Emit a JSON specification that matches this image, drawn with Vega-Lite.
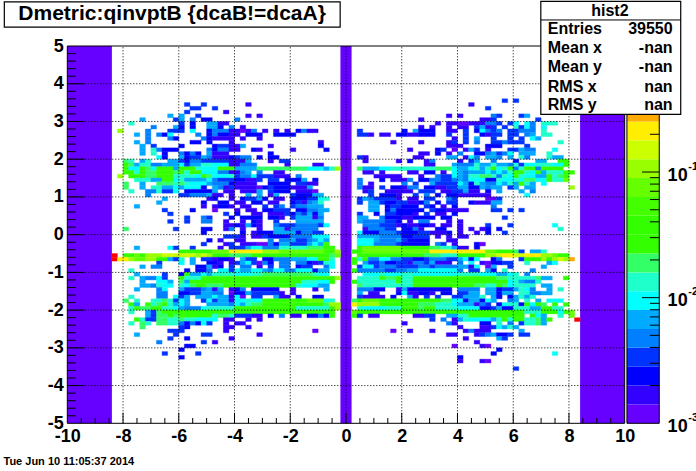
{"$schema":"https://vega.github.io/schema/vega-lite/v6.json","width":557.4,"height":377.3,"autosize":{"type":"none"},"padding":{"left":67.3,"top":46,"right":71.3,"bottom":47.7},"background":"white","config":{"view":{"stroke":null},"font":"Liberation Sans"},
"datasets":{"cells":[
{"x":-5.8,"x2":-5.6,"y":3.45,"z":0.0034},{"x":-5.2,"x2":-5,"y":3.45,"z":0.0034},{"x":-3.6,"x2":-3.4,"y":3.45,"z":0.0017},{"x":-5.6,"x2":-5.2,"y":3.35,"z":0.0034},{"x":-4.8,"x2":-4.6,"y":3.35,"z":0.0034},{"x":-5.8,"x2":-5.6,"y":3.25,"z":0.0034},{"x":-4.4,"x2":-4.2,"y":3.25,"z":0.0017},
{"x":-6.4,"x2":-6.2,"y":3.15,"z":0.0067},{"x":-6,"x2":-5.8,"y":3.15,"z":0.0067},{"x":-5.4,"x2":-5.2,"y":3.15,"z":0.0034},{"x":-3.6,"x2":-3.4,"y":3.15,"z":0.0017},{"x":-3.2,"x2":-3,"y":3.15,"z":0.0017},
{"x":-7.4,"x2":-7.2,"y":3.05,"z":0.0067},{"x":-6.2,"x2":-6,"y":3.05,"z":0.0034},{"x":-6,"x2":-5.8,"y":3.05,"z":0.0067},{"x":-5.6,"x2":-5.4,"y":3.05,"z":0.0047},{"x":-5.2,"x2":-4.8,"y":3.05,"z":0.0024},{"x":-4,"x2":-3.8,"y":3.05,"z":0.0047},
{"x":-7.8,"x2":-7.6,"y":2.95,"z":0.013},{"x":-6,"x2":-5.8,"y":2.95,"z":0.0034},{"x":-5.6,"x2":-5.4,"y":2.95,"z":0.0024},{"x":-5,"x2":-4.6,"y":2.95,"z":0.0067},{"x":-4.6,"x2":-4.2,"y":2.95,"z":0.0017},
{"x":-7,"x2":-6.8,"y":2.85,"z":0.0047},{"x":-6.2,"x2":-6,"y":2.85,"z":0.0067},{"x":-6,"x2":-5.8,"y":2.85,"z":0.0024},{"x":-5.6,"x2":-5.4,"y":2.85,"z":0.0024},{"x":-5,"x2":-4.6,"y":2.85,"z":0.0067},{"x":-4.6,"x2":-4.4,"y":2.85,"z":0.0024},{"x":-4.2,"x2":-4,"y":2.85,"z":0.0047},{"x":-3.8,"x2":-3.6,"y":2.85,"z":0.0017},
{"x":-8.2,"x2":-8,"y":2.75,"z":0.11},{"x":-7.2,"x2":-7,"y":2.75,"z":0.0047},{"x":-6.4,"x2":-5.8,"y":2.75,"z":0.0034},{"x":-5.6,"x2":-5.4,"y":2.75,"z":0.0094},{"x":-5,"x2":-4.8,"y":2.75,"z":0.0024},{"x":-4.8,"x2":-4.2,"y":2.75,"z":0.0047},{"x":-4.2,"x2":-3.8,"y":2.75,"z":0.0017},{"x":-3.8,"x2":-3.6,"y":2.75,"z":0.0012},{"x":-3.6,"x2":-3.4,"y":2.75,"z":0.0017},{"x":-3.4,"x2":-3.2,"y":2.75,"z":0.0047},{"x":-3,"x2":-2.8,"y":2.75,"z":0.0017},{"x":-2.6,"x2":-2.4,"y":2.75,"z":0.0017},{"x":-2.2,"x2":-2,"y":2.75,"z":0.0017},{"x":-1.8,"x2":-1.6,"y":2.75,"z":0.0024},{"x":-1.6,"x2":-1.4,"y":2.75,"z":0.0047},{"x":-1.4,"x2":-1,"y":2.75,"z":0.0017},
{"x":-7.6,"x2":-7.4,"y":2.65,"z":0.0067},{"x":-7.2,"x2":-7,"y":2.65,"z":0.0047},{"x":-6.8,"x2":-6.6,"y":2.65,"z":0.0047},{"x":-6.6,"x2":-6.4,"y":2.65,"z":0.0024},{"x":-6.4,"x2":-6.2,"y":2.65,"z":0.0094},{"x":-5.4,"x2":-5.2,"y":2.65,"z":0.0047},{"x":-5,"x2":-4.8,"y":2.65,"z":0.0024},{"x":-4.8,"x2":-4.6,"y":2.65,"z":0.0047},{"x":-4.6,"x2":-4.2,"y":2.65,"z":0.0024},{"x":-4.2,"x2":-3.8,"y":2.65,"z":0.0017},{"x":-3.6,"x2":-3,"y":2.65,"z":0.0024},{"x":-2.6,"x2":-1.8,"y":2.65,"z":0.0024},
{"x":-7.2,"x2":-7,"y":2.55,"z":0.0047},{"x":-6.4,"x2":-6.2,"y":2.55,"z":0.0047},{"x":-6.2,"x2":-6,"y":2.55,"z":0.0024},{"x":-5.2,"x2":-5,"y":2.55,"z":0.0047},{"x":-5,"x2":-4.8,"y":2.55,"z":0.0024},{"x":-4.8,"x2":-4,"y":2.55,"z":0.0017},{"x":-3.8,"x2":-3.6,"y":2.55,"z":0.0017},{"x":-3.2,"x2":-3,"y":2.55,"z":0.0017},
{"x":-7.6,"x2":-7.4,"y":2.45,"z":0.0067},{"x":-7.2,"x2":-7,"y":2.45,"z":0.0047},{"x":-5.6,"x2":-5.2,"y":2.45,"z":0.0024},{"x":-5,"x2":-4.8,"y":2.45,"z":0.0024},{"x":-4.2,"x2":-4,"y":2.45,"z":0.0017},{"x":-1,"x2":-0.8,"y":2.45,"z":0.0017},
{"x":-7.4,"x2":-7.2,"y":2.35,"z":0.0067},{"x":-7,"x2":-6.8,"y":2.35,"z":0.0034},{"x":-6,"x2":-5.8,"y":2.35,"z":0.0024},{"x":-4.8,"x2":-4.6,"y":2.35,"z":0.0024},{"x":-4.6,"x2":-4.2,"y":2.35,"z":0.0034},{"x":-4.2,"x2":-3.8,"y":2.35,"z":0.0017},{"x":-3.8,"x2":-3.6,"y":2.35,"z":0.0067},{"x":-2.8,"x2":-2.6,"y":2.35,"z":0.0017},{"x":-1,"x2":-0.8,"y":2.35,"z":0.0024},
{"x":-7.4,"x2":-7.2,"y":2.25,"z":0.0067},{"x":-7,"x2":-6.8,"y":2.25,"z":0.013},{"x":-6.8,"x2":-6.6,"y":2.25,"z":0.0047},{"x":-6.6,"x2":-6,"y":2.25,"z":0.0024},{"x":-5,"x2":-4.8,"y":2.25,"z":0.0047},{"x":-4.8,"x2":-4.6,"y":2.25,"z":0.0024},{"x":-4.6,"x2":-4.2,"y":2.25,"z":0.0047},{"x":-4.2,"x2":-3.8,"y":2.25,"z":0.0017},{"x":-3.4,"x2":-3.2,"y":2.25,"z":0.0024},{"x":-3.2,"x2":-3,"y":2.25,"z":0.0017},{"x":-2,"x2":-1.8,"y":2.25,"z":0.0017},{"x":-0.8,"x2":-0.6,"y":2.25,"z":0.0024},
{"x":-7.4,"x2":-7.2,"y":2.15,"z":0.0067},{"x":-7,"x2":-6.8,"y":2.15,"z":0.013},{"x":-6.6,"x2":-6.4,"y":2.15,"z":0.0024},{"x":-6,"x2":-5.8,"y":2.15,"z":0.0047},{"x":-5.8,"x2":-5.6,"y":2.15,"z":0.0024},{"x":-5.6,"x2":-5.4,"y":2.15,"z":0.0047},{"x":-5.4,"x2":-5.2,"y":2.15,"z":0.0024},{"x":-5,"x2":-4.8,"y":2.15,"z":0.0067},{"x":-4.8,"x2":-4.2,"y":2.15,"z":0.0017},{"x":-2.8,"x2":-2.6,"y":2.15,"z":0.0024},
{"x":-6.8,"x2":-6.6,"y":2.05,"z":0.0094},{"x":-6.6,"x2":-6.4,"y":2.05,"z":0.0024},{"x":-6,"x2":-5.8,"y":2.05,"z":0.0067},{"x":-5.8,"x2":-5.6,"y":2.05,"z":0.0024},{"x":-5.6,"x2":-5.2,"y":2.05,"z":0.0034},{"x":-5.2,"x2":-5,"y":2.05,"z":0.0067},{"x":-5,"x2":-4.8,"y":2.05,"z":0.0047},{"x":-4.8,"x2":-4.2,"y":2.05,"z":0.0017},{"x":-4.2,"x2":-4,"y":2.05,"z":0.0024},{"x":-4,"x2":-3.8,"y":2.05,"z":0.0034},{"x":-3.8,"x2":-3.4,"y":2.05,"z":0.0047},{"x":-3.2,"x2":-3,"y":2.05,"z":0.0024},{"x":-2.8,"x2":-2.4,"y":2.05,"z":0.0024},
{"x":-8,"x2":-7.8,"y":1.95,"z":0.019},{"x":-7.8,"x2":-7.6,"y":1.95,"z":0.013},{"x":-7.4,"x2":-7.2,"y":1.95,"z":0.0067},{"x":-7.2,"x2":-7,"y":1.95,"z":0.013},{"x":-6.4,"x2":-6,"y":1.95,"z":0.0067},{"x":-6,"x2":-5.8,"y":1.95,"z":0.0034},{"x":-5.8,"x2":-5.6,"y":1.95,"z":0.0024},{"x":-5.6,"x2":-5.2,"y":1.95,"z":0.0047},{"x":-5.2,"x2":-4.2,"y":1.95,"z":0.0034},{"x":-4.2,"x2":-3.6,"y":1.95,"z":0.0017},{"x":-3.6,"x2":-3.4,"y":1.95,"z":0.0067},{"x":-2.8,"x2":-2.6,"y":1.95,"z":0.0017},{"x":-2.4,"x2":-2,"y":1.95,"z":0.0034},
{"x":-8,"x2":-7.8,"y":1.85,"z":0.038},{"x":-7.8,"x2":-7.6,"y":1.85,"z":0.019},{"x":-7.6,"x2":-7.4,"y":1.85,"z":0.0067},{"x":-7.4,"x2":-7,"y":1.85,"z":0.013},{"x":-7,"x2":-6.6,"y":1.85,"z":0.0047},{"x":-6.6,"x2":-6,"y":1.85,"z":0.0067},{"x":-6,"x2":-5.8,"y":1.85,"z":0.0094},{"x":-5.8,"x2":-5.6,"y":1.85,"z":0.0034},{"x":-5.6,"x2":-5.2,"y":1.85,"z":0.0067},{"x":-5.2,"x2":-4.8,"y":1.85,"z":0.013},{"x":-4.8,"x2":-4.2,"y":1.85,"z":0.0094},{"x":-4.2,"x2":-3.8,"y":1.85,"z":0.0017},{"x":-3.8,"x2":-3.2,"y":1.85,"z":0.0047},{"x":-2.2,"x2":-2,"y":1.85,"z":0.0017},{"x":-1.2,"x2":-0.8,"y":1.85,"z":0.0017},
{"x":-8,"x2":-7.8,"y":1.75,"z":0.038},{"x":-7.8,"x2":-7.4,"y":1.75,"z":0.0094},{"x":-7.4,"x2":-7.2,"y":1.75,"z":0.038},{"x":-7.2,"x2":-7,"y":1.75,"z":0.019},{"x":-7,"x2":-6.8,"y":1.75,"z":0.0094},{"x":-6.8,"x2":-6.4,"y":1.75,"z":0.038},{"x":-6.4,"x2":-6.2,"y":1.75,"z":0.027},{"x":-6.2,"x2":-6,"y":1.75,"z":0.0067},{"x":-6,"x2":-5.4,"y":1.75,"z":0.038},{"x":-5.4,"x2":-5.2,"y":1.75,"z":0.013},{"x":-5.2,"x2":-4.6,"y":1.75,"z":0.0094},{"x":-4.6,"x2":-4,"y":1.75,"z":0.027},{"x":-4,"x2":-3.2,"y":1.75,"z":0.0067},{"x":-3.2,"x2":-1.4,"y":1.75,"z":0.019},{"x":-1.4,"x2":-0.8,"y":1.75,"z":0.0094},{"x":-0.8,"x2":-0.6,"y":1.75,"z":0.0067},{"x":-0.6,"x2":-0.4,"y":1.75,"z":0.013},{"x":-0.4,"x2":-0.2,"y":1.75,"z":0.11},
{"x":-8,"x2":-7.6,"y":1.65,"z":0.027},{"x":-7.6,"x2":-7.4,"y":1.65,"z":0.013},{"x":-7.4,"x2":-7.2,"y":1.65,"z":0.027},{"x":-7.2,"x2":-6.8,"y":1.65,"z":0.019},{"x":-6.8,"x2":-6.2,"y":1.65,"z":0.027},{"x":-6.2,"x2":-6,"y":1.65,"z":0.019},{"x":-6,"x2":-5.8,"y":1.65,"z":0.027},{"x":-5.8,"x2":-5.6,"y":1.65,"z":0.013},{"x":-5.6,"x2":-5.2,"y":1.65,"z":0.027},{"x":-5.2,"x2":-4.6,"y":1.65,"z":0.0094},{"x":-4.6,"x2":-4.2,"y":1.65,"z":0.0047},{"x":-4.2,"x2":-3.8,"y":1.65,"z":0.0017},{"x":-3.8,"x2":-3.6,"y":1.65,"z":0.0047},{"x":-3.6,"x2":-3.4,"y":1.65,"z":0.0067},{"x":-3.2,"x2":-3,"y":1.65,"z":0.0047},{"x":-2.6,"x2":-2.2,"y":1.65,"z":0.0017},
{"x":-8.2,"x2":-8,"y":1.55,"z":0.11},{"x":-7.8,"x2":-7.2,"y":1.55,"z":0.027},{"x":-7.2,"x2":-6.8,"y":1.55,"z":0.019},{"x":-6.8,"x2":-6.2,"y":1.55,"z":0.027},{"x":-6.2,"x2":-5.4,"y":1.55,"z":0.013},{"x":-5.4,"x2":-5.2,"y":1.55,"z":0.0094},{"x":-5.2,"x2":-5,"y":1.55,"z":0.027},{"x":-5,"x2":-4.8,"y":1.55,"z":0.019},{"x":-4.8,"x2":-4.2,"y":1.55,"z":0.0094},{"x":-4.2,"x2":-4,"y":1.55,"z":0.013},{"x":-4,"x2":-3.8,"y":1.55,"z":0.0034},{"x":-3.8,"x2":-3.4,"y":1.55,"z":0.0047},{"x":-3.4,"x2":-3.2,"y":1.55,"z":0.0094},{"x":-3.2,"x2":-2.6,"y":1.55,"z":0.0034},{"x":-2.6,"x2":-2,"y":1.55,"z":0.0017},{"x":-1.8,"x2":-1.6,"y":1.55,"z":0.0047},
{"x":-7.6,"x2":-7,"y":1.45,"z":0.013},{"x":-7,"x2":-6.6,"y":1.45,"z":0.0067},{"x":-6.6,"x2":-6.2,"y":1.45,"z":0.027},{"x":-6.2,"x2":-6,"y":1.45,"z":0.0094},{"x":-6,"x2":-5.8,"y":1.45,"z":0.013},{"x":-5.8,"x2":-5,"y":1.45,"z":0.0067},{"x":-5,"x2":-4.8,"y":1.45,"z":0.0094},{"x":-4.8,"x2":-4.6,"y":1.45,"z":0.0047},{"x":-4.6,"x2":-4,"y":1.45,"z":0.0034},{"x":-4,"x2":-3.6,"y":1.45,"z":0.0024},{"x":-3.6,"x2":-3.2,"y":1.45,"z":0.0017},{"x":-3.2,"x2":-3,"y":1.45,"z":0.0034},{"x":-2.8,"x2":-2.4,"y":1.45,"z":0.0034},{"x":-2.2,"x2":-1.6,"y":1.45,"z":0.0024},{"x":-1.6,"x2":-1.4,"y":1.45,"z":0.0067},{"x":-1.2,"x2":-1,"y":1.45,"z":0.0024},
{"x":-8,"x2":-7.8,"y":1.35,"z":0.019},{"x":-7.4,"x2":-7.2,"y":1.35,"z":0.0067},{"x":-6.8,"x2":-6.2,"y":1.35,"z":0.019},{"x":-6.2,"x2":-6,"y":1.35,"z":0.013},{"x":-6,"x2":-5.8,"y":1.35,"z":0.019},{"x":-5.8,"x2":-5.6,"y":1.35,"z":0.013},{"x":-5.6,"x2":-5,"y":1.35,"z":0.0094},{"x":-5,"x2":-4.8,"y":1.35,"z":0.0067},{"x":-4.8,"x2":-4.2,"y":1.35,"z":0.0047},{"x":-4.2,"x2":-4,"y":1.35,"z":0.0024},{"x":-4,"x2":-3.2,"y":1.35,"z":0.0017},{"x":-2.8,"x2":-2,"y":1.35,"z":0.0024},{"x":-1.8,"x2":-1.4,"y":1.35,"z":0.0034},{"x":-1.4,"x2":-1,"y":1.35,"z":0.0017},
{"x":-8,"x2":-7.8,"y":1.25,"z":0.019},{"x":-7.4,"x2":-7.2,"y":1.25,"z":0.0067},{"x":-7,"x2":-6.6,"y":1.25,"z":0.013},{"x":-6.6,"x2":-6.2,"y":1.25,"z":0.0067},{"x":-6.2,"x2":-6,"y":1.25,"z":0.0094},{"x":-6,"x2":-5.8,"y":1.25,"z":0.0067},{"x":-5.8,"x2":-5.2,"y":1.25,"z":0.0094},{"x":-5.2,"x2":-5,"y":1.25,"z":0.0024},{"x":-4.8,"x2":-4.6,"y":1.25,"z":0.0067},{"x":-4.6,"x2":-4.4,"y":1.25,"z":0.0047},{"x":-4.4,"x2":-4.2,"y":1.25,"z":0.0017},{"x":-4.2,"x2":-4,"y":1.25,"z":0.0034},{"x":-4,"x2":-3.2,"y":1.25,"z":0.0017},{"x":-3.2,"x2":-3,"y":1.25,"z":0.0012},{"x":-3,"x2":-2.8,"y":1.25,"z":0.0024},{"x":-2.8,"x2":-2.6,"y":1.25,"z":0.0034},{"x":-2.6,"x2":-2,"y":1.25,"z":0.0024},{"x":-2,"x2":-1.4,"y":1.25,"z":0.0017},{"x":-1.4,"x2":-1.2,"y":1.25,"z":0.0067},
{"x":-7.8,"x2":-7.6,"y":1.15,"z":0.013},{"x":-7.2,"x2":-6.8,"y":1.15,"z":0.0047},{"x":-6.8,"x2":-6.6,"y":1.15,"z":0.013},{"x":-6.6,"x2":-6.2,"y":1.15,"z":0.0034},{"x":-6.2,"x2":-6,"y":1.15,"z":0.0094},{"x":-5.8,"x2":-4.8,"y":1.15,"z":0.0024},{"x":-4.8,"x2":-4.6,"y":1.15,"z":0.0067},{"x":-4.4,"x2":-4,"y":1.15,"z":0.0017},{"x":-3.8,"x2":-3.2,"y":1.15,"z":0.0017},{"x":-3.2,"x2":-3,"y":1.15,"z":0.0067},{"x":-2.8,"x2":-2.6,"y":1.15,"z":0.0034},{"x":-2.6,"x2":-2,"y":1.15,"z":0.0024},{"x":-1.8,"x2":-1.2,"y":1.15,"z":0.0017},{"x":-1.2,"x2":-1,"y":1.15,"z":0.0012},
{"x":-7.2,"x2":-7,"y":1.05,"z":0.0047},{"x":-6,"x2":-5.6,"y":1.05,"z":0.0034},{"x":-5.6,"x2":-5,"y":1.05,"z":0.0047},{"x":-5,"x2":-4.8,"y":1.05,"z":0.0067},{"x":-4.8,"x2":-4.4,"y":1.05,"z":0.0017},{"x":-4.2,"x2":-4,"y":1.05,"z":0.0017},{"x":-3.6,"x2":-3.4,"y":1.05,"z":0.0067},{"x":-3.2,"x2":-3,"y":1.05,"z":0.0067},{"x":-2.8,"x2":-2.6,"y":1.05,"z":0.0017},{"x":-2.6,"x2":-2.4,"y":1.05,"z":0.0067},{"x":-2,"x2":-1.8,"y":1.05,"z":0.0034},{"x":-1.8,"x2":-1.2,"y":1.05,"z":0.0024},{"x":-1.2,"x2":-0.8,"y":1.05,"z":0.0067},
{"x":-6.6,"x2":-6.4,"y":0.95,"z":0.0067},{"x":-5,"x2":-4.8,"y":0.95,"z":0.0017},{"x":-4.8,"x2":-4.6,"y":0.95,"z":0.0024},{"x":-4.2,"x2":-4,"y":0.95,"z":0.0017},{"x":-3.8,"x2":-3.6,"y":0.95,"z":0.0024},{"x":-3.6,"x2":-3.2,"y":0.95,"z":0.0034},{"x":-3.2,"x2":-3,"y":0.95,"z":0.0067},{"x":-3,"x2":-2.8,"y":0.95,"z":0.0024},{"x":-2.6,"x2":-2.2,"y":0.95,"z":0.0017},{"x":-2,"x2":-1.4,"y":0.95,"z":0.0024},{"x":-1.4,"x2":-1,"y":0.95,"z":0.0034},{"x":-1,"x2":-0.8,"y":0.95,"z":0.0094},{"x":-0.8,"x2":-0.6,"y":0.95,"z":0.013},
{"x":-6.8,"x2":-6.6,"y":0.85,"z":0.0067},{"x":-5.2,"x2":-5,"y":0.85,"z":0.0024},{"x":-4.6,"x2":-4.2,"y":0.85,"z":0.0024},{"x":-4,"x2":-3.6,"y":0.85,"z":0.0017},{"x":-3.4,"x2":-3,"y":0.85,"z":0.0024},{"x":-2.8,"x2":-2.4,"y":0.85,"z":0.0017},{"x":-2,"x2":-1.8,"y":0.85,"z":0.0024},{"x":-1.8,"x2":-1.6,"y":0.85,"z":0.0034},{"x":-1.6,"x2":-1.4,"y":0.85,"z":0.0017},{"x":-1.4,"x2":-1.2,"y":0.85,"z":0.0047},{"x":-1.2,"x2":-1,"y":0.85,"z":0.0067},{"x":-1,"x2":-0.8,"y":0.85,"z":0.013},
{"x":-7.6,"x2":-7.4,"y":0.75,"z":0.0067},{"x":-5.2,"x2":-5,"y":0.75,"z":0.0017},{"x":-4.8,"x2":-4.6,"y":0.75,"z":0.0017},{"x":-4.6,"x2":-4.2,"y":0.75,"z":0.0024},{"x":-4.2,"x2":-4,"y":0.75,"z":0.0017},{"x":-3.8,"x2":-3.4,"y":0.75,"z":0.0017},{"x":-3,"x2":-2.8,"y":0.75,"z":0.0034},{"x":-2.6,"x2":-2.4,"y":0.75,"z":0.0034},{"x":-2.4,"x2":-2.2,"y":0.75,"z":0.0047},{"x":-2,"x2":-1.8,"y":0.75,"z":0.0034},{"x":-1.8,"x2":-1.4,"y":0.75,"z":0.0047},{"x":-1.4,"x2":-0.8,"y":0.75,"z":0.0067},
{"x":-6.6,"x2":-6.4,"y":0.65,"z":0.0034},{"x":-5.6,"x2":-5.4,"y":0.65,"z":0.0024},{"x":-4.8,"x2":-4.6,"y":0.65,"z":0.0012},{"x":-4,"x2":-3.8,"y":0.65,"z":0.0017},{"x":-3.6,"x2":-3.2,"y":0.65,"z":0.0017},{"x":-3,"x2":-2.6,"y":0.65,"z":0.0024},{"x":-2.6,"x2":-2,"y":0.65,"z":0.0034},{"x":-1.8,"x2":-1.4,"y":0.65,"z":0.0024},{"x":-1.4,"x2":-1,"y":0.65,"z":0.0047},{"x":-1,"x2":-0.6,"y":0.65,"z":0.0067},
{"x":-6.4,"x2":-6.2,"y":0.55,"z":0.0034},{"x":-4.4,"x2":-4.2,"y":0.55,"z":0.0034},{"x":-4,"x2":-3.8,"y":0.55,"z":0.0024},{"x":-3.4,"x2":-3,"y":0.55,"z":0.0017},{"x":-2.8,"x2":-2.2,"y":0.55,"z":0.0017},{"x":-2.2,"x2":-2,"y":0.55,"z":0.0034},{"x":-2,"x2":-1.8,"y":0.55,"z":0.0024},{"x":-1.8,"x2":-1.6,"y":0.55,"z":0.0047},{"x":-1.6,"x2":-1.4,"y":0.55,"z":0.0034},{"x":-1.4,"x2":-1.2,"y":0.55,"z":0.0067},{"x":-1.2,"x2":-1,"y":0.55,"z":0.0024},{"x":-1,"x2":-0.8,"y":0.55,"z":0.0067},
{"x":-5.8,"x2":-5.6,"y":0.45,"z":0.0034},{"x":-5.2,"x2":-5,"y":0.45,"z":0.0047},{"x":-5,"x2":-4.8,"y":0.45,"z":0.0034},{"x":-4.2,"x2":-4,"y":0.45,"z":0.0024},{"x":-3.8,"x2":-3,"y":0.45,"z":0.0024},{"x":-2.8,"x2":-2.4,"y":0.45,"z":0.0024},{"x":-2.4,"x2":-2.2,"y":0.45,"z":0.0017},{"x":-2,"x2":-1.8,"y":0.45,"z":0.0034},{"x":-1.8,"x2":-1.2,"y":0.45,"z":0.0067},{"x":-1.2,"x2":-1,"y":0.45,"z":0.0017},{"x":-1,"x2":-0.8,"y":0.45,"z":0.0047},
{"x":-6.4,"x2":-6.2,"y":0.35,"z":0.0034},{"x":-5.8,"x2":-5.6,"y":0.35,"z":0.0034},{"x":-5.2,"x2":-4.8,"y":0.35,"z":0.0047},{"x":-4.4,"x2":-4.2,"y":0.35,"z":0.0017},{"x":-3.8,"x2":-3.6,"y":0.35,"z":0.0017},{"x":-3.4,"x2":-3.2,"y":0.35,"z":0.0024},{"x":-3.2,"x2":-3,"y":0.35,"z":0.0017},{"x":-2.6,"x2":-2.4,"y":0.35,"z":0.0034},{"x":-1.8,"x2":-0.8,"y":0.35,"z":0.0067},
{"x":-4.4,"x2":-4,"y":0.25,"z":0.0017},{"x":-4,"x2":-3.8,"y":0.25,"z":0.0024},{"x":-3.8,"x2":-3.6,"y":0.25,"z":0.0017},{"x":-3.6,"x2":-3.4,"y":0.25,"z":0.0067},{"x":-3.4,"x2":-3.2,"y":0.25,"z":0.0024},{"x":-3.2,"x2":-3,"y":0.25,"z":0.0017},{"x":-2.6,"x2":-2.4,"y":0.25,"z":0.0047},{"x":-2.4,"x2":-1.8,"y":0.25,"z":0.0034},{"x":-1.8,"x2":-1,"y":0.25,"z":0.0047},{"x":-1,"x2":-0.8,"y":0.25,"z":0.0034},{"x":-0.8,"x2":-0.6,"y":0.25,"z":0.0094},
{"x":-8,"x2":-7.8,"y":0.15,"z":0.019},{"x":-6.2,"x2":-6,"y":0.15,"z":0.0034},{"x":-5.2,"x2":-4.8,"y":0.15,"z":0.0024},{"x":-4.4,"x2":-4.2,"y":0.15,"z":0.0017},{"x":-4.2,"x2":-4,"y":0.15,"z":0.0047},{"x":-3.8,"x2":-3.6,"y":0.15,"z":0.0017},{"x":-3.2,"x2":-3,"y":0.15,"z":0.0017},{"x":-2.6,"x2":-2.2,"y":0.15,"z":0.0067},{"x":-2.2,"x2":-2,"y":0.15,"z":0.0017},{"x":-2,"x2":-1,"y":0.15,"z":0.0047},
{"x":-5.2,"x2":-5,"y":0.05,"z":0.0024},{"x":-3.8,"x2":-3.6,"y":0.05,"z":0.0024},{"x":-3.4,"x2":-3.2,"y":0.05,"z":0.0017},{"x":-3.2,"x2":-2.6,"y":0.05,"z":0.0024},{"x":-2.6,"x2":-1.8,"y":0.05,"z":0.0067},{"x":-1.8,"x2":-1.6,"y":0.05,"z":0.0024},{"x":-1.6,"x2":-1.2,"y":0.05,"z":0.0047},{"x":-1.2,"x2":-0.8,"y":0.05,"z":0.0034},
{"x":-4.4,"x2":-3.8,"y":-0.05,"z":0.0034},{"x":-3.8,"x2":-3.6,"y":-0.05,"z":0.0017},{"x":-3.4,"x2":-3,"y":-0.05,"z":0.0017},{"x":-3,"x2":-2.8,"y":-0.05,"z":0.0034},{"x":-2.8,"x2":-2,"y":-0.05,"z":0.0024},{"x":-2,"x2":-1.2,"y":-0.05,"z":0.0047},{"x":-1.2,"x2":-0.6,"y":-0.05,"z":0.0094},
{"x":-5,"x2":-4.8,"y":-0.15,"z":0.0024},{"x":-4.6,"x2":-4.4,"y":-0.15,"z":0.0017},{"x":-4,"x2":-3.6,"y":-0.15,"z":0.0017},{"x":-2.8,"x2":-2.6,"y":-0.15,"z":0.0047},{"x":-2.4,"x2":-2,"y":-0.15,"z":0.0047},{"x":-2,"x2":-1.8,"y":-0.15,"z":0.0067},{"x":-1.8,"x2":-1.4,"y":-0.15,"z":0.0034},{"x":-1.4,"x2":-1.2,"y":-0.15,"z":0.0047},{"x":-1.2,"x2":-1,"y":-0.15,"z":0.0067},{"x":-1,"x2":-0.8,"y":-0.15,"z":0.0094},{"x":-0.8,"x2":-0.6,"y":-0.15,"z":0.0067},
{"x":-5.2,"x2":-5,"y":-0.25,"z":0.0034},{"x":-4.4,"x2":-4.2,"y":-0.25,"z":0.0017},{"x":-4.2,"x2":-4,"y":-0.25,"z":0.0034},{"x":-3.8,"x2":-3.2,"y":-0.25,"z":0.0017},{"x":-3.2,"x2":-2.8,"y":-0.25,"z":0.0012},{"x":-2.8,"x2":-2.6,"y":-0.25,"z":0.0047},{"x":-2.6,"x2":-2.4,"y":-0.25,"z":0.0024},{"x":-2.4,"x2":-2,"y":-0.25,"z":0.0067},{"x":-2,"x2":-1.4,"y":-0.25,"z":0.0034},{"x":-1.4,"x2":-1.2,"y":-0.25,"z":0.0067},{"x":-1.2,"x2":-1,"y":-0.25,"z":0.0094},{"x":-1,"x2":-0.8,"y":-0.25,"z":0.0067},{"x":-0.8,"x2":-0.6,"y":-0.25,"z":0.027},
{"x":-7.6,"x2":-7.4,"y":-0.35,"z":0.0067},{"x":-6.4,"x2":-6.2,"y":-0.35,"z":0.0094},{"x":-6.2,"x2":-6,"y":-0.35,"z":0.0034},{"x":-5.6,"x2":-5.4,"y":-0.35,"z":0.0034},{"x":-4.6,"x2":-4.4,"y":-0.35,"z":0.0017},{"x":-4.2,"x2":-3.6,"y":-0.35,"z":0.0034},{"x":-3.6,"x2":-3.4,"y":-0.35,"z":0.0067},{"x":-3.4,"x2":-3,"y":-0.35,"z":0.0094},{"x":-3,"x2":-2.4,"y":-0.35,"z":0.0047},{"x":-2.4,"x2":-1.4,"y":-0.35,"z":0.013},{"x":-1.4,"x2":-0.8,"y":-0.35,"z":0.019},{"x":-0.8,"x2":-0.4,"y":-0.35,"z":0.027},
{"x":-6,"x2":-4.8,"y":-0.45,"z":0.027},{"x":-4.8,"x2":-4.2,"y":-0.45,"z":0.075},{"x":-4.2,"x2":-3,"y":-0.45,"z":0.21},{"x":-3,"x2":-2.4,"y":-0.45,"z":0.11},{"x":-2.4,"x2":-0.8,"y":-0.45,"z":0.075},{"x":-0.8,"x2":-0.4,"y":-0.45,"z":0.027},{"x":-0.4,"x2":-0.2,"y":-0.45,"z":0.11},
{"x":-8.4,"x2":-8.2,"y":-0.55,"z":0.6},{"x":-8,"x2":-7.6,"y":-0.55,"z":0.027},{"x":-7.6,"x2":-7.4,"y":-0.55,"z":0.075},{"x":-7.4,"x2":-7.2,"y":-0.55,"z":0.027},{"x":-7.2,"x2":-6.6,"y":-0.55,"z":0.11},{"x":-6.6,"x2":-5.4,"y":-0.55,"z":0.15},{"x":-5.4,"x2":-5.2,"y":-0.55,"z":0.11},{"x":-5.2,"x2":-5,"y":-0.55,"z":0.15},{"x":-5,"x2":-4.8,"y":-0.55,"z":0.11},{"x":-4.8,"x2":-4.2,"y":-0.55,"z":0.027},{"x":-4.2,"x2":-3.4,"y":-0.55,"z":0.019},{"x":-3.4,"x2":-0.6,"y":-0.55,"z":0.027},{"x":-0.6,"x2":-0.4,"y":-0.55,"z":0.019},{"x":-0.4,"x2":-0.2,"y":-0.55,"z":0.075},
{"x":-8.4,"x2":-8.2,"y":-0.65,"z":0.6},{"x":-8.2,"x2":-7.8,"y":-0.65,"z":0.21},{"x":-7.8,"x2":-7.6,"y":-0.65,"z":0.11},{"x":-7.6,"x2":-7.2,"y":-0.65,"z":0.075},{"x":-7.2,"x2":-6.8,"y":-0.65,"z":0.11},{"x":-6.8,"x2":-6.4,"y":-0.65,"z":0.027},{"x":-6.4,"x2":-6.2,"y":-0.65,"z":0.0067},{"x":-6.2,"x2":-6,"y":-0.65,"z":0.0034},{"x":-6,"x2":-5.8,"y":-0.65,"z":0.013},{"x":-5.6,"x2":-5.4,"y":-0.65,"z":0.0067},{"x":-5.2,"x2":-4.8,"y":-0.65,"z":0.0034},{"x":-4.8,"x2":-4.6,"y":-0.65,"z":0.0017},{"x":-4.6,"x2":-4.2,"y":-0.65,"z":0.0024},{"x":-4.2,"x2":-4,"y":-0.65,"z":0.0017},{"x":-3.8,"x2":-3.6,"y":-0.65,"z":0.0067},{"x":-3.6,"x2":-3.2,"y":-0.65,"z":0.0034},{"x":-3,"x2":-2.6,"y":-0.65,"z":0.0024},{"x":-2.6,"x2":-2,"y":-0.65,"z":0.0047},{"x":-2,"x2":-1.4,"y":-0.65,"z":0.0067},{"x":-1.4,"x2":-1,"y":-0.65,"z":0.0094},{"x":-1,"x2":-0.6,"y":-0.65,"z":0.027},{"x":-0.6,"x2":-0.4,"y":-0.65,"z":0.013},
{"x":-6.8,"x2":-6.6,"y":-0.75,"z":0.0034},{"x":-6,"x2":-5.8,"y":-0.75,"z":0.0094},{"x":-5.6,"x2":-5.4,"y":-0.75,"z":0.0067},{"x":-5,"x2":-4.6,"y":-0.75,"z":0.0024},{"x":-4.6,"x2":-4.4,"y":-0.75,"z":0.0017},{"x":-4.2,"x2":-4,"y":-0.75,"z":0.0017},{"x":-4,"x2":-3.8,"y":-0.75,"z":0.0034},{"x":-3.8,"x2":-3.6,"y":-0.75,"z":0.0067},{"x":-3.6,"x2":-3.4,"y":-0.75,"z":0.0094},{"x":-3.4,"x2":-3.2,"y":-0.75,"z":0.0034},{"x":-3.2,"x2":-3,"y":-0.75,"z":0.0012},{"x":-3,"x2":-2.8,"y":-0.75,"z":0.0047},{"x":-2.8,"x2":-2.6,"y":-0.75,"z":0.0024},{"x":-2.4,"x2":-2,"y":-0.75,"z":0.0047},{"x":-1.8,"x2":-1.4,"y":-0.75,"z":0.0047},{"x":-1.4,"x2":-1.2,"y":-0.75,"z":0.0024},{"x":-1.2,"x2":-1,"y":-0.75,"z":0.0017},{"x":-1,"x2":-0.8,"y":-0.75,"z":0.0034},{"x":-0.8,"x2":-0.6,"y":-0.75,"z":0.013},{"x":-0.6,"x2":-0.4,"y":-0.75,"z":0.0094},
{"x":-7.4,"x2":-7.2,"y":-0.85,"z":0.0067},{"x":-7,"x2":-6.6,"y":-0.85,"z":0.0047},{"x":-5.4,"x2":-5,"y":-0.85,"z":0.0024},{"x":-5,"x2":-4.8,"y":-0.85,"z":0.0067},{"x":-4.8,"x2":-4.6,"y":-0.85,"z":0.0017},{"x":-4.6,"x2":-4.4,"y":-0.85,"z":0.0024},{"x":-4.2,"x2":-4,"y":-0.85,"z":0.0034},{"x":-3.8,"x2":-3.4,"y":-0.85,"z":0.0047},{"x":-3.2,"x2":-3,"y":-0.85,"z":0.0017},{"x":-2.8,"x2":-2.6,"y":-0.85,"z":0.0034},{"x":-2.4,"x2":-2,"y":-0.85,"z":0.0047},{"x":-1.8,"x2":-1.6,"y":-0.85,"z":0.0024},{"x":-1.6,"x2":-1.2,"y":-0.85,"z":0.0034},{"x":-0.8,"x2":-0.6,"y":-0.85,"z":0.0047},{"x":-0.6,"x2":-0.4,"y":-0.85,"z":0.0094},
{"x":-7.8,"x2":-7.6,"y":-0.95,"z":0.013},{"x":-5.8,"x2":-5.6,"y":-0.95,"z":0.0024},{"x":-5.4,"x2":-5,"y":-0.95,"z":0.0024},{"x":-5,"x2":-4.8,"y":-0.95,"z":0.0047},{"x":-4.6,"x2":-4.2,"y":-0.95,"z":0.0094},{"x":-4.2,"x2":-4,"y":-0.95,"z":0.0034},{"x":-4,"x2":-3.8,"y":-0.95,"z":0.0094},{"x":-3.8,"x2":-3.4,"y":-0.95,"z":0.0067},{"x":-3.4,"x2":-3,"y":-0.95,"z":0.0094},{"x":-3,"x2":-2.8,"y":-0.95,"z":0.0067},{"x":-2.8,"x2":-2.6,"y":-0.95,"z":0.0047},{"x":-2.6,"x2":-2.2,"y":-0.95,"z":0.0094},{"x":-2.2,"x2":-1.8,"y":-0.95,"z":0.0047},{"x":-1.8,"x2":-1.2,"y":-0.95,"z":0.0094},{"x":-1.2,"x2":-1,"y":-0.95,"z":0.0024},{"x":-1,"x2":-0.6,"y":-0.95,"z":0.0067},
{"x":-7.6,"x2":-7.4,"y":-1.05,"z":0.0067},{"x":-6.6,"x2":-6.4,"y":-1.05,"z":0.0034},{"x":-6,"x2":-5.8,"y":-1.05,"z":0.0024},{"x":-5.8,"x2":-5.6,"y":-1.05,"z":0.027},{"x":-5.6,"x2":-5.2,"y":-1.05,"z":0.0067},{"x":-5.2,"x2":-5,"y":-1.05,"z":0.0094},{"x":-5,"x2":-4.8,"y":-1.05,"z":0.0067},{"x":-4.8,"x2":-4,"y":-1.05,"z":0.013},{"x":-4,"x2":-3.4,"y":-1.05,"z":0.0094},{"x":-3.4,"x2":-3,"y":-1.05,"z":0.013},{"x":-3,"x2":-1.2,"y":-1.05,"z":0.019},{"x":-1.2,"x2":-1,"y":-1.05,"z":0.013},{"x":-1,"x2":-0.6,"y":-1.05,"z":0.0094},
{"x":-7.8,"x2":-7.6,"y":-1.15,"z":0.013},{"x":-7.4,"x2":-7.2,"y":-1.15,"z":0.0067},{"x":-7.2,"x2":-6.8,"y":-1.15,"z":0.0047},{"x":-6.8,"x2":-6.6,"y":-1.15,"z":0.0094},{"x":-6.6,"x2":-6.4,"y":-1.15,"z":0.0034},{"x":-6,"x2":-5.8,"y":-1.15,"z":0.027},{"x":-5.8,"x2":-5.2,"y":-1.15,"z":0.013},{"x":-5.2,"x2":-0.4,"y":-1.15,"z":0.027},{"x":-0.4,"x2":-0.2,"y":-1.15,"z":0.11},
{"x":-7.4,"x2":-7.2,"y":-1.25,"z":0.0067},{"x":-6.8,"x2":-6.4,"y":-1.25,"z":0.0094},{"x":-6.4,"x2":-6.2,"y":-1.25,"z":0.0067},{"x":-6,"x2":-5.8,"y":-1.25,"z":0.019},{"x":-5.8,"x2":-5.6,"y":-1.25,"z":0.0067},{"x":-5.6,"x2":-1.6,"y":-1.25,"z":0.027},{"x":-1.6,"x2":-1,"y":-1.25,"z":0.013},{"x":-1,"x2":-0.6,"y":-1.25,"z":0.0094},{"x":-0.6,"x2":-0.4,"y":-1.25,"z":0.027},
{"x":-7.4,"x2":-7,"y":-1.35,"z":0.0067},{"x":-7,"x2":-6.8,"y":-1.35,"z":0.0047},{"x":-6.8,"x2":-6.6,"y":-1.35,"z":0.013},{"x":-6.6,"x2":-6.2,"y":-1.35,"z":0.0094},{"x":-6,"x2":-5.8,"y":-1.35,"z":0.013},{"x":-5.8,"x2":-5.6,"y":-1.35,"z":0.0094},{"x":-5.6,"x2":-5.4,"y":-1.35,"z":0.019},{"x":-5.4,"x2":-5,"y":-1.35,"z":0.027},{"x":-5,"x2":-4.4,"y":-1.35,"z":0.019},{"x":-4.4,"x2":-1.8,"y":-1.35,"z":0.027},{"x":-1.8,"x2":-1.6,"y":-1.35,"z":0.013},{"x":-1.6,"x2":-1,"y":-1.35,"z":0.0094},{"x":-1,"x2":-0.6,"y":-1.35,"z":0.0067},
{"x":-7.6,"x2":-7.4,"y":-1.45,"z":0.0067},{"x":-6.8,"x2":-6.6,"y":-1.45,"z":0.0047},{"x":-6.6,"x2":-6.4,"y":-1.45,"z":0.0094},{"x":-6,"x2":-5.8,"y":-1.45,"z":0.0067},{"x":-5.8,"x2":-5.2,"y":-1.45,"z":0.0034},{"x":-5.2,"x2":-5,"y":-1.45,"z":0.0047},{"x":-5,"x2":-4.8,"y":-1.45,"z":0.0067},{"x":-4.8,"x2":-4.6,"y":-1.45,"z":0.0017},{"x":-4.6,"x2":-4.4,"y":-1.45,"z":0.0067},{"x":-4.2,"x2":-4,"y":-1.45,"z":0.0017},{"x":-4,"x2":-3.8,"y":-1.45,"z":0.0024},{"x":-3.8,"x2":-3.6,"y":-1.45,"z":0.0047},{"x":-3.4,"x2":-2.4,"y":-1.45,"z":0.0024},{"x":-2,"x2":-1.8,"y":-1.45,"z":0.0017},{"x":-1.2,"x2":-1,"y":-1.45,"z":0.0017},{"x":-0.8,"x2":-0.6,"y":-1.45,"z":0.0067},
{"x":-6.8,"x2":-6.4,"y":-1.55,"z":0.0047},{"x":-6,"x2":-5.6,"y":-1.55,"z":0.0024},{"x":-5.6,"x2":-5.2,"y":-1.55,"z":0.0034},{"x":-5.2,"x2":-4.8,"y":-1.55,"z":0.0067},{"x":-4.8,"x2":-4.4,"y":-1.55,"z":0.0047},{"x":-4.2,"x2":-4,"y":-1.55,"z":0.0012},{"x":-4,"x2":-3.6,"y":-1.55,"z":0.0024},{"x":-3.6,"x2":-3.4,"y":-1.55,"z":0.0067},{"x":-3.4,"x2":-2.4,"y":-1.55,"z":0.0034},{"x":-2.4,"x2":-2.2,"y":-1.55,"z":0.0017},{"x":-2,"x2":-1.8,"y":-1.55,"z":0.0017},
{"x":-7.8,"x2":-7.6,"y":-1.65,"z":0.013},{"x":-6.8,"x2":-6.4,"y":-1.65,"z":0.0047},{"x":-6.2,"x2":-6,"y":-1.65,"z":0.0094},{"x":-6,"x2":-5.8,"y":-1.65,"z":0.0034},{"x":-5.8,"x2":-5.6,"y":-1.65,"z":0.0067},{"x":-5.4,"x2":-4.8,"y":-1.65,"z":0.0067},{"x":-4.8,"x2":-4.6,"y":-1.65,"z":0.0094},{"x":-4.6,"x2":-4.2,"y":-1.65,"z":0.0067},{"x":-4.2,"x2":-4,"y":-1.65,"z":0.0017},{"x":-4,"x2":-3.8,"y":-1.65,"z":0.0094},{"x":-3.8,"x2":-3.6,"y":-1.65,"z":0.0012},{"x":-3.4,"x2":-3,"y":-1.65,"z":0.0034},{"x":-2.6,"x2":-2.4,"y":-1.65,"z":0.0067},{"x":-2.4,"x2":-2,"y":-1.65,"z":0.0017},{"x":-1.8,"x2":-1.6,"y":-1.65,"z":0.0024},{"x":-1.2,"x2":-0.8,"y":-1.65,"z":0.0024},
{"x":-8,"x2":-7.8,"y":-1.75,"z":0.019},{"x":-7.6,"x2":-7.4,"y":-1.75,"z":0.013},{"x":-7,"x2":-6.6,"y":-1.75,"z":0.013},{"x":-6.6,"x2":-6.4,"y":-1.75,"z":0.019},{"x":-6.4,"x2":-6.2,"y":-1.75,"z":0.013},{"x":-6.2,"x2":-6,"y":-1.75,"z":0.0034},{"x":-6,"x2":-5.8,"y":-1.75,"z":0.0094},{"x":-5.8,"x2":-5.6,"y":-1.75,"z":0.0067},{"x":-5.2,"x2":-5,"y":-1.75,"z":0.0034},{"x":-5,"x2":-4.8,"y":-1.75,"z":0.0094},{"x":-4.8,"x2":-4.6,"y":-1.75,"z":0.0034},{"x":-4.6,"x2":-4.2,"y":-1.75,"z":0.0067},{"x":-4.2,"x2":-4,"y":-1.75,"z":0.0017},{"x":-4,"x2":-3.6,"y":-1.75,"z":0.0094},{"x":-3.6,"x2":-3.4,"y":-1.75,"z":0.013},{"x":-3.4,"x2":-3,"y":-1.75,"z":0.0094},{"x":-3,"x2":-1.4,"y":-1.75,"z":0.027},{"x":-1.4,"x2":-0.8,"y":-1.75,"z":0.075},{"x":-0.8,"x2":-0.6,"y":-1.75,"z":0.0094},{"x":-0.6,"x2":-0.4,"y":-1.75,"z":0.013},
{"x":-7.8,"x2":-7.6,"y":-1.85,"z":0.027},{"x":-7.6,"x2":-7.4,"y":-1.85,"z":0.0067},{"x":-7.2,"x2":-7,"y":-1.85,"z":0.027},{"x":-7,"x2":-6.8,"y":-1.85,"z":0.013},{"x":-6.8,"x2":-6.6,"y":-1.85,"z":0.019},{"x":-6.6,"x2":-6.4,"y":-1.85,"z":0.027},{"x":-6.4,"x2":-6.2,"y":-1.85,"z":0.013},{"x":-6.2,"x2":-6,"y":-1.85,"z":0.0067},{"x":-6,"x2":-5.8,"y":-1.85,"z":0.0094},{"x":-5.8,"x2":-5.6,"y":-1.85,"z":0.0067},{"x":-5,"x2":-4.2,"y":-1.85,"z":0.0067},{"x":-4.2,"x2":-4,"y":-1.85,"z":0.0047},{"x":-4,"x2":-3.8,"y":-1.85,"z":0.0094},{"x":-3.8,"x2":-3.6,"y":-1.85,"z":0.0067},{"x":-3.6,"x2":-3.4,"y":-1.85,"z":0.013},{"x":-3.4,"x2":-3,"y":-1.85,"z":0.019},{"x":-3,"x2":-0.8,"y":-1.85,"z":0.027},{"x":-0.8,"x2":-0.6,"y":-1.85,"z":0.019},{"x":-0.6,"x2":-0.2,"y":-1.85,"z":0.11},
{"x":-7.8,"x2":-7.6,"y":-1.95,"z":0.013},{"x":-7.6,"x2":-7.4,"y":-1.95,"z":0.027},{"x":-7.4,"x2":-7,"y":-1.95,"z":0.019},{"x":-7,"x2":-6.6,"y":-1.95,"z":0.027},{"x":-6.6,"x2":-6.2,"y":-1.95,"z":0.013},{"x":-6.2,"x2":-6,"y":-1.95,"z":0.0094},{"x":-6,"x2":-5.8,"y":-1.95,"z":0.0067},{"x":-5.8,"x2":-5.2,"y":-1.95,"z":0.0047},{"x":-5.2,"x2":-5,"y":-1.95,"z":0.0094},{"x":-5,"x2":-4,"y":-1.95,"z":0.013},{"x":-4,"x2":-1.8,"y":-1.95,"z":0.027},{"x":-1.8,"x2":-0.6,"y":-1.95,"z":0.013},{"x":-0.6,"x2":-0.4,"y":-1.95,"z":0.027},{"x":-0.4,"x2":-0.2,"y":-1.95,"z":0.11},
{"x":-7.8,"x2":-7.6,"y":-2.05,"z":0.013},{"x":-7.2,"x2":-7,"y":-2.05,"z":0.0067},{"x":-7,"x2":-6.8,"y":-2.05,"z":0.0034},{"x":-6.8,"x2":-6.6,"y":-2.05,"z":0.019},{"x":-6.6,"x2":-0.4,"y":-2.05,"z":0.027},
{"x":-7.2,"x2":-7,"y":-2.15,"z":0.0067},{"x":-7,"x2":-6.8,"y":-2.15,"z":0.0034},{"x":-6.8,"x2":-6.4,"y":-2.15,"z":0.019},{"x":-6.4,"x2":-6.2,"y":-2.15,"z":0.027},{"x":-6.2,"x2":-6,"y":-2.15,"z":0.019},{"x":-6,"x2":-4.8,"y":-2.15,"z":0.027},{"x":-4.8,"x2":-4.6,"y":-2.15,"z":0.013},{"x":-4.6,"x2":-4.2,"y":-2.15,"z":0.019},{"x":-4.2,"x2":-4,"y":-2.15,"z":0.013},{"x":-4,"x2":-3.4,"y":-2.15,"z":0.0034},{"x":-3.4,"x2":-3,"y":-2.15,"z":0.0017},{"x":-2.8,"x2":-2.6,"y":-2.15,"z":0.0024},{"x":-2.4,"x2":-2.2,"y":-2.15,"z":0.0047},{"x":-2,"x2":-1.6,"y":-2.15,"z":0.0017},{"x":-1.4,"x2":-1,"y":-2.15,"z":0.0024},{"x":-1,"x2":-0.8,"y":-2.15,"z":0.0047},{"x":-0.8,"x2":-0.6,"y":-2.15,"z":0.0024},{"x":-0.6,"x2":-0.4,"y":-2.15,"z":0.027},
{"x":-7.6,"x2":-7.4,"y":-2.25,"z":0.027},{"x":-7.4,"x2":-7.2,"y":-2.25,"z":0.013},{"x":-7.2,"x2":-6.8,"y":-2.25,"z":0.0034},{"x":-6.8,"x2":-6.4,"y":-2.25,"z":0.019},{"x":-6.4,"x2":-6,"y":-2.25,"z":0.013},{"x":-6,"x2":-5.8,"y":-2.25,"z":0.019},{"x":-5.8,"x2":-5.4,"y":-2.25,"z":0.013},{"x":-5.4,"x2":-4.6,"y":-2.25,"z":0.0094},{"x":-4.4,"x2":-4,"y":-2.25,"z":0.0017},{"x":-3.6,"x2":-3.4,"y":-2.25,"z":0.0017},{"x":-3.2,"x2":-3,"y":-2.25,"z":0.0017},
{"x":-7.8,"x2":-7.6,"y":-2.35,"z":0.013},{"x":-7.4,"x2":-7.2,"y":-2.35,"z":0.019},{"x":-7.2,"x2":-7,"y":-2.35,"z":0.013},{"x":-6.8,"x2":-6.4,"y":-2.35,"z":0.019},{"x":-6.4,"x2":-6,"y":-2.35,"z":0.013},{"x":-6,"x2":-5.8,"y":-2.35,"z":0.0047},{"x":-5.8,"x2":-5.6,"y":-2.35,"z":0.0024},{"x":-5.6,"x2":-5.4,"y":-2.35,"z":0.0047},{"x":-5.4,"x2":-5.2,"y":-2.35,"z":0.0024},{"x":-5.2,"x2":-5,"y":-2.35,"z":0.0094},{"x":-5,"x2":-4.8,"y":-2.35,"z":0.0034},{"x":-4.4,"x2":-4.2,"y":-2.35,"z":0.0017},{"x":-4,"x2":-3.6,"y":-2.35,"z":0.0017},
{"x":-7.4,"x2":-7.2,"y":-2.45,"z":0.019},{"x":-6,"x2":-5.8,"y":-2.45,"z":0.0034},{"x":-5.8,"x2":-5.6,"y":-2.45,"z":0.0024},{"x":-4.4,"x2":-4,"y":-2.45,"z":0.0017},{"x":-3.6,"x2":-3.4,"y":-2.45,"z":0.0017},
{"x":-6.4,"x2":-5.8,"y":-2.55,"z":0.0034},{"x":-4.4,"x2":-4.2,"y":-2.55,"z":0.0017},{"x":-1.2,"x2":-1,"y":-2.55,"z":0.0012},
{"x":-7.6,"x2":-7.4,"y":-2.65,"z":0.0067},{"x":-6.2,"x2":-6,"y":-2.65,"z":0.0034},{"x":-5.2,"x2":-4.8,"y":-2.65,"z":0.0034},{"x":-3.2,"x2":-3,"y":-2.65,"z":0.0017},
{"x":-6.4,"x2":-6.2,"y":-2.75,"z":0.0034},{"x":-5.8,"x2":-5.6,"y":-2.75,"z":0.0024},{"x":-4.2,"x2":-4,"y":-2.75,"z":0.0017},
{"x":-6.8,"x2":-6.6,"y":-2.85,"z":0.0047},{"x":-5.2,"x2":-5,"y":-2.85,"z":0.0034},{"x":-4.8,"x2":-4.6,"y":-2.85,"z":0.0017},
{"x":-5.8,"x2":-5.4,"y":-2.95,"z":0.0024},{"x":-6,"x2":-5.8,"y":-3.05,"z":0.0024},{"x":-6.6,"x2":-6.4,"y":-3.15,"z":0.0034},{"x":-5.4,"x2":-5.2,"y":-3.15,"z":0.0034},{"x":-6,"x2":-5.8,"y":-3.25,"z":0.0024},
{"x":4.4,"x2":4.6,"y":3.45,"z":0.0017},{"x":5.6,"x2":5.8,"y":3.55,"z":0.0034},{"x":6,"x2":6.2,"y":3.55,"z":0.0034},{"x":7,"x2":7.2,"y":3.45,"z":0.0047},{"x":5,"x2":5.2,"y":3.35,"z":0.0034},
{"x":3.6,"x2":3.8,"y":3.15,"z":0.0017},{"x":4,"x2":4.2,"y":3.15,"z":0.0017},{"x":5.2,"x2":5.4,"y":3.15,"z":0.0047},{"x":5.4,"x2":5.6,"y":3.15,"z":0.0034},{"x":6.2,"x2":6.4,"y":3.15,"z":0.0034},{"x":6.4,"x2":6.6,"y":3.15,"z":0.0067},
{"x":2.6,"x2":2.8,"y":3.05,"z":0.0017},{"x":4.8,"x2":5.2,"y":3.05,"z":0.0017},{"x":5.2,"x2":5.4,"y":3.05,"z":0.0034},{"x":6.8,"x2":7,"y":3.05,"z":0.0034},
{"x":3.2,"x2":3.4,"y":2.95,"z":0.0017},{"x":3.6,"x2":4,"y":2.95,"z":0.0017},{"x":4,"x2":4.4,"y":2.95,"z":0.0012},{"x":4.4,"x2":5,"y":2.95,"z":0.0017},{"x":5,"x2":5.4,"y":2.95,"z":0.0047},{"x":5.4,"x2":5.6,"y":2.95,"z":0.0034},{"x":5.8,"x2":6,"y":2.95,"z":0.0034},{"x":6,"x2":6.2,"y":2.95,"z":0.0094},{"x":6.4,"x2":6.6,"y":2.95,"z":0.0094},{"x":6.6,"x2":6.8,"y":2.95,"z":0.0047},{"x":7,"x2":7.6,"y":2.95,"z":0.013},
{"x":2.6,"x2":2.8,"y":2.85,"z":0.0017},{"x":3,"x2":3.2,"y":2.85,"z":0.0017},{"x":3.6,"x2":3.8,"y":2.85,"z":0.0017},{"x":4,"x2":4.4,"y":2.85,"z":0.0017},{"x":4.6,"x2":4.8,"y":2.85,"z":0.0034},{"x":4.8,"x2":5,"y":2.85,"z":0.0067},{"x":5,"x2":5.2,"y":2.85,"z":0.0017},{"x":5.2,"x2":5.4,"y":2.85,"z":0.0034},{"x":5.6,"x2":5.8,"y":2.85,"z":0.0034},{"x":6,"x2":6.2,"y":2.85,"z":0.013},{"x":6.2,"x2":6.4,"y":2.85,"z":0.0034},{"x":6.4,"x2":6.6,"y":2.85,"z":0.0094},{"x":6.6,"x2":6.8,"y":2.85,"z":0.0047},{"x":7,"x2":7.2,"y":2.85,"z":0.0094},
{"x":0.4,"x2":0.6,"y":2.75,"z":0.0034},{"x":2,"x2":2.2,"y":2.75,"z":0.0024},{"x":2.4,"x2":2.6,"y":2.75,"z":0.0067},{"x":2.6,"x2":3.2,"y":2.75,"z":0.0024},{"x":3.6,"x2":4,"y":2.75,"z":0.0017},{"x":4.2,"x2":4.4,"y":2.75,"z":0.0034},{"x":4.6,"x2":4.8,"y":2.75,"z":0.0024},{"x":4.8,"x2":5,"y":2.75,"z":0.0094},{"x":5,"x2":5.2,"y":2.75,"z":0.0047},{"x":5.2,"x2":5.4,"y":2.75,"z":0.0034},{"x":5.4,"x2":5.6,"y":2.75,"z":0.0047},{"x":5.8,"x2":6.2,"y":2.75,"z":0.0034},{"x":6.2,"x2":6.8,"y":2.75,"z":0.0047},{"x":7,"x2":7.2,"y":2.75,"z":0.013},
{"x":0.4,"x2":0.8,"y":2.65,"z":0.0034},{"x":0.8,"x2":1,"y":2.65,"z":0.0017},{"x":1.2,"x2":1.6,"y":2.65,"z":0.0017},{"x":1.8,"x2":2.2,"y":2.65,"z":0.0024},{"x":2.2,"x2":2.6,"y":2.65,"z":0.0017},{"x":2.6,"x2":3.2,"y":2.65,"z":0.0024},{"x":3.6,"x2":3.8,"y":2.65,"z":0.0034},{"x":4.2,"x2":4.4,"y":2.65,"z":0.0034},{"x":4.8,"x2":5,"y":2.65,"z":0.0024},{"x":5,"x2":5.2,"y":2.65,"z":0.0017},{"x":5.2,"x2":5.6,"y":2.65,"z":0.0034},{"x":5.8,"x2":6.2,"y":2.65,"z":0.0034},{"x":6.4,"x2":6.6,"y":2.65,"z":0.0047},{"x":6.6,"x2":6.8,"y":2.65,"z":0.0067},{"x":7,"x2":7.4,"y":2.65,"z":0.013},
{"x":3.8,"x2":4,"y":2.55,"z":0.0017},{"x":4.2,"x2":4.4,"y":2.55,"z":0.0034},{"x":4.6,"x2":4.8,"y":2.55,"z":0.0067},{"x":5.2,"x2":5.4,"y":2.55,"z":0.0034},{"x":5.8,"x2":6,"y":2.55,"z":0.0034},{"x":6.2,"x2":6.4,"y":2.55,"z":0.0034},{"x":6.6,"x2":6.8,"y":2.55,"z":0.0094},{"x":6.8,"x2":7,"y":2.55,"z":0.0067},
{"x":1.6,"x2":1.8,"y":2.45,"z":0.0017},{"x":2.6,"x2":2.8,"y":2.45,"z":0.0017},{"x":3.6,"x2":3.8,"y":2.45,"z":0.0017},{"x":3.8,"x2":4,"y":2.45,"z":0.0034},{"x":4.2,"x2":4.4,"y":2.45,"z":0.0034},{"x":4.6,"x2":4.8,"y":2.45,"z":0.0047},{"x":5.2,"x2":5.6,"y":2.45,"z":0.0034},{"x":5.6,"x2":5.8,"y":2.45,"z":0.0047},{"x":5.8,"x2":6.4,"y":2.45,"z":0.0034},{"x":7.6,"x2":7.8,"y":2.45,"z":0.013},
{"x":3.6,"x2":4.2,"y":2.35,"z":0.0017},{"x":5,"x2":5.6,"y":2.35,"z":0.0024},{"x":6.4,"x2":6.6,"y":2.35,"z":0.0034},
{"x":2.2,"x2":2.4,"y":2.25,"z":0.0017},{"x":3.2,"x2":3.4,"y":2.25,"z":0.0024},{"x":3.4,"x2":3.6,"y":2.25,"z":0.0034},{"x":3.8,"x2":4,"y":2.25,"z":0.0012},{"x":4.2,"x2":4.4,"y":2.25,"z":0.0017},{"x":4.4,"x2":4.6,"y":2.25,"z":0.0067},{"x":4.6,"x2":4.8,"y":2.25,"z":0.0034},{"x":5,"x2":5.2,"y":2.25,"z":0.0017},{"x":5.8,"x2":6.2,"y":2.25,"z":0.0034},{"x":6.2,"x2":6.4,"y":2.25,"z":0.0067},{"x":6.4,"x2":6.8,"y":2.25,"z":0.0047},{"x":7.4,"x2":7.6,"y":2.25,"z":0.0094},
{"x":2.6,"x2":3,"y":2.15,"z":0.0017},{"x":3.2,"x2":3.4,"y":2.15,"z":0.0024},{"x":3.6,"x2":3.8,"y":2.15,"z":0.0017},{"x":4,"x2":4.2,"y":2.15,"z":0.0047},{"x":4.6,"x2":5,"y":2.15,"z":0.0024},{"x":5,"x2":5.2,"y":2.15,"z":0.0047},{"x":5.2,"x2":5.4,"y":2.15,"z":0.0067},{"x":5.4,"x2":5.6,"y":2.15,"z":0.0034},{"x":5.6,"x2":5.8,"y":2.15,"z":0.0047},{"x":5.8,"x2":6,"y":2.15,"z":0.0094},{"x":6.2,"x2":6.8,"y":2.15,"z":0.0067},{"x":7.2,"x2":7.4,"y":2.15,"z":0.013},
{"x":0.4,"x2":0.6,"y":2.05,"z":0.0034},{"x":0.6,"x2":0.8,"y":2.05,"z":0.0017},{"x":2.4,"x2":2.8,"y":2.05,"z":0.0017},{"x":3.6,"x2":4,"y":2.05,"z":0.0067},{"x":4.2,"x2":4.4,"y":2.05,"z":0.0017},{"x":4.4,"x2":4.6,"y":2.05,"z":0.0094},{"x":4.6,"x2":4.8,"y":2.05,"z":0.0047},{"x":5,"x2":5.4,"y":2.05,"z":0.0067},{"x":5.4,"x2":5.6,"y":2.05,"z":0.0047},{"x":5.8,"x2":6,"y":2.05,"z":0.0067},{"x":6.2,"x2":6.4,"y":2.05,"z":0.013},{"x":6.4,"x2":6.6,"y":2.05,"z":0.0047},{"x":7.2,"x2":7.4,"y":2.05,"z":0.013},{"x":7.4,"x2":7.8,"y":2.05,"z":0.0067},
{"x":0.6,"x2":0.8,"y":1.95,"z":0.0017},{"x":1.8,"x2":2,"y":1.95,"z":0.0017},{"x":2.2,"x2":2.4,"y":1.95,"z":0.0024},{"x":2.8,"x2":3,"y":1.95,"z":0.0017},{"x":3,"x2":3.2,"y":1.95,"z":0.0047},{"x":4,"x2":4.2,"y":1.95,"z":0.0017},{"x":4.4,"x2":4.6,"y":1.95,"z":0.0034},{"x":4.6,"x2":4.8,"y":1.95,"z":0.0067},{"x":5.2,"x2":5.4,"y":1.95,"z":0.0047},{"x":6,"x2":6.2,"y":1.95,"z":0.0024},{"x":6.8,"x2":7.2,"y":1.95,"z":0.0067},{"x":7.6,"x2":8,"y":1.95,"z":0.027},
{"x":2.8,"x2":3.2,"y":1.85,"z":0.0017},{"x":3.8,"x2":4,"y":1.85,"z":0.0067},{"x":4,"x2":4.6,"y":1.85,"z":0.0047},{"x":4.6,"x2":4.8,"y":1.85,"z":0.013},{"x":4.8,"x2":5.2,"y":1.85,"z":0.0067},{"x":5.2,"x2":5.4,"y":1.85,"z":0.013},{"x":5.4,"x2":5.8,"y":1.85,"z":0.0067},{"x":5.8,"x2":6,"y":1.85,"z":0.0047},{"x":6,"x2":6.2,"y":1.85,"z":0.013},{"x":6.2,"x2":6.4,"y":1.85,"z":0.0034},{"x":6.4,"x2":6.8,"y":1.85,"z":0.0094},{"x":6.8,"x2":7.4,"y":1.85,"z":0.013},{"x":7.4,"x2":7.8,"y":1.85,"z":0.0094},{"x":7.8,"x2":8,"y":1.85,"z":0.027},
{"x":0.4,"x2":0.6,"y":1.75,"z":0.019},{"x":0.6,"x2":1.2,"y":1.75,"z":0.0067},{"x":1.2,"x2":1.6,"y":1.75,"z":0.0094},{"x":1.6,"x2":3.2,"y":1.75,"z":0.013},{"x":3.2,"x2":3.8,"y":1.75,"z":0.019},{"x":3.8,"x2":4,"y":1.75,"z":0.0094},{"x":4,"x2":4.4,"y":1.75,"z":0.0067},{"x":4.4,"x2":4.6,"y":1.75,"z":0.0094},{"x":4.6,"x2":4.8,"y":1.75,"z":0.013},{"x":4.8,"x2":5,"y":1.75,"z":0.0067},{"x":5,"x2":5.2,"y":1.75,"z":0.013},{"x":5.2,"x2":5.4,"y":1.75,"z":0.027},{"x":5.4,"x2":5.6,"y":1.75,"z":0.0094},{"x":5.6,"x2":5.8,"y":1.75,"z":0.013},{"x":5.8,"x2":6,"y":1.75,"z":0.027},{"x":6,"x2":6.2,"y":1.75,"z":0.0047},{"x":6.2,"x2":6.4,"y":1.75,"z":0.013},{"x":6.4,"x2":6.8,"y":1.75,"z":0.027},{"x":6.8,"x2":7,"y":1.75,"z":0.0047},{"x":7,"x2":7.8,"y":1.75,"z":0.027},
{"x":0.6,"x2":1,"y":1.65,"z":0.0017},{"x":1.2,"x2":1.4,"y":1.65,"z":0.0017},{"x":2.2,"x2":2.6,"y":1.65,"z":0.0017},{"x":2.8,"x2":3.2,"y":1.65,"z":0.0024},{"x":3.4,"x2":3.6,"y":1.65,"z":0.0017},{"x":3.8,"x2":4,"y":1.65,"z":0.0094},{"x":4,"x2":4.2,"y":1.65,"z":0.0067},{"x":4.2,"x2":4.4,"y":1.65,"z":0.0047},{"x":4.4,"x2":5,"y":1.65,"z":0.0067},{"x":5,"x2":5.2,"y":1.65,"z":0.0094},{"x":5.2,"x2":5.4,"y":1.65,"z":0.0067},{"x":5.4,"x2":5.6,"y":1.65,"z":0.0094},{"x":5.6,"x2":5.8,"y":1.65,"z":0.0067},{"x":5.8,"x2":6,"y":1.65,"z":0.013},{"x":6,"x2":6.4,"y":1.65,"z":0.027},{"x":6.4,"x2":6.6,"y":1.65,"z":0.013},{"x":6.6,"x2":6.8,"y":1.65,"z":0.0094},{"x":6.8,"x2":7,"y":1.65,"z":0.027},{"x":7,"x2":7.2,"y":1.65,"z":0.0067},{"x":7.2,"x2":7.8,"y":1.65,"z":0.013},{"x":7.8,"x2":8.2,"y":1.65,"z":0.027},
{"x":1,"x2":2,"y":1.55,"z":0.0017},{"x":2.6,"x2":2.8,"y":1.55,"z":0.0017},{"x":3.2,"x2":3.4,"y":1.55,"z":0.0047},{"x":3.4,"x2":3.8,"y":1.55,"z":0.0034},{"x":3.8,"x2":4,"y":1.55,"z":0.0094},{"x":4,"x2":4.2,"y":1.55,"z":0.0067},{"x":4.2,"x2":4.4,"y":1.55,"z":0.0047},{"x":4.4,"x2":4.8,"y":1.55,"z":0.013},{"x":4.8,"x2":5.2,"y":1.55,"z":0.019},{"x":5.2,"x2":5.4,"y":1.55,"z":0.013},{"x":5.4,"x2":5.6,"y":1.55,"z":0.0047},{"x":5.6,"x2":5.8,"y":1.55,"z":0.013},{"x":5.8,"x2":6,"y":1.55,"z":0.0094},{"x":6,"x2":6.2,"y":1.55,"z":0.027},{"x":6.2,"x2":6.4,"y":1.55,"z":0.013},{"x":6.4,"x2":6.8,"y":1.55,"z":0.0094},{"x":6.8,"x2":7.2,"y":1.55,"z":0.0067},{"x":7.2,"x2":7.4,"y":1.55,"z":0.027},{"x":7.4,"x2":7.6,"y":1.55,"z":0.013},{"x":7.6,"x2":7.8,"y":1.55,"z":0.019},{"x":7.8,"x2":8,"y":1.55,"z":0.027},
{"x":0.4,"x2":0.6,"y":1.45,"z":0.0047},{"x":1.2,"x2":1.4,"y":1.45,"z":0.0024},{"x":1.6,"x2":2.2,"y":1.45,"z":0.0017},{"x":2.2,"x2":2.4,"y":1.45,"z":0.0047},{"x":2.6,"x2":3,"y":1.45,"z":0.0024},{"x":3,"x2":3.4,"y":1.45,"z":0.0047},{"x":3.4,"x2":3.8,"y":1.45,"z":0.0034},{"x":3.8,"x2":4,"y":1.45,"z":0.0047},{"x":4,"x2":4.2,"y":1.45,"z":0.0067},{"x":4.2,"x2":4.4,"y":1.45,"z":0.0047},{"x":4.4,"x2":5,"y":1.45,"z":0.0094},{"x":5,"x2":5.4,"y":1.45,"z":0.0024},{"x":5.4,"x2":5.6,"y":1.45,"z":0.013},{"x":5.6,"x2":6,"y":1.45,"z":0.0094},{"x":6,"x2":6.2,"y":1.45,"z":0.013},{"x":6.2,"x2":6.4,"y":1.45,"z":0.0094},{"x":6.4,"x2":6.8,"y":1.45,"z":0.019},{"x":6.8,"x2":7.2,"y":1.45,"z":0.0094},{"x":7.2,"x2":7.4,"y":1.45,"z":0.027},{"x":7.4,"x2":7.8,"y":1.45,"z":0.013},{"x":7.8,"x2":8,"y":1.45,"z":0.075},
{"x":0.4,"x2":0.6,"y":1.35,"z":0.0047},{"x":0.8,"x2":1,"y":1.35,"z":0.0017},{"x":2,"x2":2.2,"y":1.35,"z":0.0047},{"x":2.4,"x2":2.6,"y":1.35,"z":0.0034},{"x":3,"x2":3.2,"y":1.35,"z":0.0067},{"x":3.2,"x2":4,"y":1.35,"z":0.0034},{"x":4,"x2":4.2,"y":1.35,"z":0.0094},{"x":4.2,"x2":4.4,"y":1.35,"z":0.0067},{"x":4.4,"x2":4.6,"y":1.35,"z":0.0024},{"x":4.6,"x2":4.8,"y":1.35,"z":0.013},{"x":4.8,"x2":5,"y":1.35,"z":0.0067},{"x":5,"x2":5.4,"y":1.35,"z":0.0047},{"x":5.4,"x2":5.6,"y":1.35,"z":0.0094},{"x":5.6,"x2":5.8,"y":1.35,"z":0.0067},{"x":5.8,"x2":6,"y":1.35,"z":0.013},{"x":6,"x2":6.2,"y":1.35,"z":0.0067},{"x":6.2,"x2":6.4,"y":1.35,"z":0.027},{"x":6.4,"x2":6.6,"y":1.35,"z":0.013},{"x":6.6,"x2":6.8,"y":1.35,"z":0.0067},{"x":7,"x2":7.2,"y":1.35,"z":0.0094},
{"x":0.4,"x2":0.6,"y":1.25,"z":0.0047},{"x":0.6,"x2":1,"y":1.25,"z":0.0017},{"x":1.2,"x2":1.4,"y":1.25,"z":0.0034},{"x":1.6,"x2":2,"y":1.25,"z":0.0024},{"x":2,"x2":2.2,"y":1.25,"z":0.0017},{"x":2.2,"x2":2.6,"y":1.25,"z":0.0047},{"x":2.8,"x2":3.2,"y":1.25,"z":0.0024},{"x":3.2,"x2":3.6,"y":1.25,"z":0.0017},{"x":3.6,"x2":4,"y":1.25,"z":0.0034},{"x":4,"x2":4.4,"y":1.25,"z":0.0067},{"x":4.4,"x2":4.8,"y":1.25,"z":0.0024},{"x":4.8,"x2":5,"y":1.25,"z":0.0067},{"x":5,"x2":5.2,"y":1.25,"z":0.0047},{"x":5.2,"x2":5.6,"y":1.25,"z":0.0067},{"x":5.8,"x2":6,"y":1.25,"z":0.0034},{"x":6,"x2":6.2,"y":1.25,"z":0.0067},{"x":6.4,"x2":6.8,"y":1.25,"z":0.0067},{"x":8,"x2":8.2,"y":1.25,"z":0.11},
{"x":0.6,"x2":0.8,"y":1.15,"z":0.0017},{"x":0.8,"x2":1,"y":1.15,"z":0.0034},{"x":1.4,"x2":2.4,"y":1.15,"z":0.0017},{"x":2.6,"x2":3.2,"y":1.15,"z":0.0034},{"x":3.4,"x2":3.8,"y":1.15,"z":0.0017},{"x":3.8,"x2":4.2,"y":1.15,"z":0.0034},{"x":4.2,"x2":4.4,"y":1.15,"z":0.0067},{"x":4.4,"x2":4.8,"y":1.15,"z":0.0017},{"x":5,"x2":5.2,"y":1.15,"z":0.0024},{"x":5.4,"x2":5.6,"y":1.15,"z":0.0067},{"x":6.2,"x2":6.4,"y":1.15,"z":0.0067},{"x":6.6,"x2":6.8,"y":1.15,"z":0.0047},
{"x":0.8,"x2":1,"y":1.05,"z":0.0034},{"x":1.2,"x2":1.8,"y":1.05,"z":0.0024},{"x":1.8,"x2":2,"y":1.05,"z":0.0017},{"x":2.4,"x2":2.6,"y":1.05,"z":0.0034},{"x":2.8,"x2":3,"y":1.05,"z":0.0047},{"x":3.2,"x2":3.4,"y":1.05,"z":0.0024},{"x":3.6,"x2":4,"y":1.05,"z":0.0024},{"x":4,"x2":5.2,"y":1.05,"z":0.0017},{"x":6.4,"x2":6.6,"y":1.05,"z":0.0094},
{"x":0.4,"x2":0.6,"y":0.95,"z":0.0034},{"x":0.6,"x2":0.8,"y":0.95,"z":0.0067},{"x":0.8,"x2":1,"y":0.95,"z":0.0047},{"x":1,"x2":1.8,"y":0.95,"z":0.0034},{"x":1.8,"x2":2,"y":0.95,"z":0.0017},{"x":2.2,"x2":2.6,"y":0.95,"z":0.0017},{"x":2.8,"x2":3.2,"y":0.95,"z":0.0034},{"x":3.6,"x2":3.8,"y":0.95,"z":0.0047},{"x":3.8,"x2":4,"y":0.95,"z":0.0034},{"x":5,"x2":5.4,"y":0.95,"z":0.0012},{"x":5.4,"x2":5.6,"y":0.95,"z":0.0034},
{"x":0.4,"x2":0.6,"y":0.85,"z":0.0034},{"x":0.8,"x2":1.2,"y":0.85,"z":0.0067},{"x":1.2,"x2":1.4,"y":0.85,"z":0.0034},{"x":1.4,"x2":1.8,"y":0.85,"z":0.0024},{"x":1.8,"x2":2.2,"y":0.85,"z":0.0034},{"x":2.2,"x2":2.6,"y":0.85,"z":0.0017},{"x":2.6,"x2":2.8,"y":0.85,"z":0.0024},{"x":2.8,"x2":3,"y":0.85,"z":0.0047},{"x":3.2,"x2":3.4,"y":0.85,"z":0.0024},{"x":3.6,"x2":4,"y":0.85,"z":0.0034},{"x":4.4,"x2":4.6,"y":0.85,"z":0.0024},{"x":4.6,"x2":5.2,"y":0.85,"z":0.0017},{"x":5.2,"x2":5.6,"y":0.85,"z":0.0067},
{"x":0.8,"x2":1.2,"y":0.75,"z":0.0067},{"x":1.4,"x2":1.6,"y":0.75,"z":0.0024},{"x":1.6,"x2":2,"y":0.75,"z":0.0034},{"x":2,"x2":2.6,"y":0.75,"z":0.0024},{"x":2.8,"x2":3,"y":0.75,"z":0.0034},{"x":3,"x2":3.2,"y":0.75,"z":0.0024},{"x":3.4,"x2":3.6,"y":0.75,"z":0.0017},{"x":3.8,"x2":4,"y":0.75,"z":0.0024},{"x":5.2,"x2":5.4,"y":0.75,"z":0.0047},
{"x":0.8,"x2":1.2,"y":0.65,"z":0.0067},{"x":1.4,"x2":1.6,"y":0.65,"z":0.0024},{"x":1.6,"x2":1.8,"y":0.65,"z":0.0047},{"x":1.8,"x2":2.8,"y":0.65,"z":0.0024},{"x":3,"x2":3.2,"y":0.65,"z":0.0034},{"x":3.2,"x2":3.6,"y":0.65,"z":0.0024},{"x":3.6,"x2":4.4,"y":0.65,"z":0.0017},{"x":5.2,"x2":5.6,"y":0.65,"z":0.0034},{"x":5.8,"x2":6,"y":0.65,"z":0.0034},{"x":6.2,"x2":6.4,"y":0.65,"z":0.0034},
{"x":0.4,"x2":0.6,"y":0.55,"z":0.0034},{"x":1,"x2":1.2,"y":0.55,"z":0.0024},{"x":1.4,"x2":1.8,"y":0.55,"z":0.0034},{"x":1.8,"x2":2.4,"y":0.55,"z":0.0024},{"x":2.4,"x2":2.6,"y":0.55,"z":0.0017},{"x":2.8,"x2":3,"y":0.55,"z":0.0034},{"x":3.2,"x2":3.6,"y":0.55,"z":0.0017},{"x":3.8,"x2":4,"y":0.55,"z":0.0024},
{"x":0.4,"x2":0.8,"y":0.45,"z":0.0067},{"x":1.2,"x2":1.4,"y":0.45,"z":0.0047},{"x":1.4,"x2":2,"y":0.45,"z":0.0024},{"x":2,"x2":2.4,"y":0.45,"z":0.0017},{"x":2.4,"x2":3.2,"y":0.45,"z":0.0024},{"x":3.4,"x2":3.8,"y":0.45,"z":0.0024},{"x":5.6,"x2":5.8,"y":0.45,"z":0.0034},
{"x":0.4,"x2":0.6,"y":0.35,"z":0.0067},{"x":0.6,"x2":1.4,"y":0.35,"z":0.0047},{"x":1.4,"x2":1.8,"y":0.35,"z":0.0034},{"x":1.8,"x2":2,"y":0.35,"z":0.0024},{"x":2.2,"x2":2.4,"y":0.35,"z":0.0017},{"x":2.6,"x2":3,"y":0.35,"z":0.0047},{"x":3.6,"x2":3.8,"y":0.35,"z":0.0017},{"x":4,"x2":4.2,"y":0.35,"z":0.0017},
{"x":0.6,"x2":1.2,"y":0.25,"z":0.0047},{"x":1.2,"x2":1.8,"y":0.25,"z":0.0034},{"x":1.8,"x2":2,"y":0.25,"z":0.0017},{"x":2,"x2":2.2,"y":0.25,"z":0.0024},{"x":2.2,"x2":2.6,"y":0.25,"z":0.0017},{"x":2.6,"x2":3,"y":0.25,"z":0.0024},{"x":3,"x2":3.2,"y":0.25,"z":0.0017},{"x":3.4,"x2":3.8,"y":0.25,"z":0.0017},{"x":4,"x2":4.2,"y":0.25,"z":0.0017},{"x":5,"x2":5.2,"y":0.25,"z":0.0034},{"x":5.8,"x2":6,"y":0.25,"z":0.0034},{"x":7.4,"x2":7.6,"y":0.25,"z":0.0094},
{"x":0.6,"x2":0.8,"y":0.15,"z":0.0017},{"x":0.8,"x2":1.4,"y":0.15,"z":0.0047},{"x":1.4,"x2":1.8,"y":0.15,"z":0.0034},{"x":2,"x2":2.4,"y":0.15,"z":0.0024},{"x":2.4,"x2":2.6,"y":0.15,"z":0.0047},{"x":2.6,"x2":2.8,"y":0.15,"z":0.0017},{"x":3.2,"x2":3.6,"y":0.15,"z":0.0024},{"x":4,"x2":4.2,"y":0.15,"z":0.0017},{"x":4.4,"x2":4.6,"y":0.15,"z":0.0017},{"x":4.8,"x2":5,"y":0.15,"z":0.0017},{"x":5,"x2":5.2,"y":0.15,"z":0.0024},{"x":5.4,"x2":5.6,"y":0.15,"z":0.0024},{"x":7.6,"x2":7.8,"y":0.15,"z":0.013},
{"x":0.4,"x2":0.6,"y":0.05,"z":0.0094},{"x":0.6,"x2":1.2,"y":0.05,"z":0.0024},{"x":1.2,"x2":1.8,"y":0.05,"z":0.0047},{"x":1.8,"x2":2,"y":0.05,"z":0.0034},{"x":2,"x2":2.6,"y":0.05,"z":0.0024},{"x":2.6,"x2":3,"y":0.05,"z":0.0034},{"x":3,"x2":3.6,"y":0.05,"z":0.0017},{"x":3.6,"x2":3.8,"y":0.05,"z":0.0024},{"x":4,"x2":4.2,"y":0.05,"z":0.0017},{"x":4.6,"x2":4.8,"y":0.05,"z":0.0017},{"x":5,"x2":5.2,"y":0.05,"z":0.0024},{"x":5.6,"x2":5.8,"y":0.05,"z":0.0034},
{"x":0.4,"x2":1.2,"y":-0.05,"z":0.0067},{"x":1.2,"x2":2,"y":-0.05,"z":0.0047},{"x":2,"x2":2.4,"y":-0.05,"z":0.0024},{"x":2.4,"x2":3,"y":-0.05,"z":0.0034},{"x":3.2,"x2":3.4,"y":-0.05,"z":0.0017},{"x":3.6,"x2":3.8,"y":-0.05,"z":0.0017},{"x":4,"x2":4.4,"y":-0.05,"z":0.0017},
{"x":0.4,"x2":1,"y":-0.15,"z":0.0094},{"x":1,"x2":1.2,"y":-0.15,"z":0.0067},{"x":1.2,"x2":1.8,"y":-0.15,"z":0.0047},{"x":1.8,"x2":2,"y":-0.15,"z":0.0067},{"x":2,"x2":2.2,"y":-0.15,"z":0.0034},{"x":2.2,"x2":3,"y":-0.15,"z":0.0024},{"x":3.6,"x2":4,"y":-0.15,"z":0.0017},
{"x":0.4,"x2":1,"y":-0.25,"z":0.0094},{"x":1,"x2":1.8,"y":-0.25,"z":0.0047},{"x":1.8,"x2":2,"y":-0.25,"z":0.0034},{"x":2,"x2":3,"y":-0.25,"z":0.0024},{"x":3.2,"x2":3.4,"y":-0.25,"z":0.0047},{"x":3.4,"x2":3.6,"y":-0.25,"z":0.0034},{"x":3.8,"x2":4,"y":-0.25,"z":0.0017},{"x":4.6,"x2":4.8,"y":-0.25,"z":0.0024},{"x":4.8,"x2":5,"y":-0.25,"z":0.0012},
{"x":0.4,"x2":0.6,"y":-0.35,"z":0.027},{"x":0.6,"x2":2,"y":-0.35,"z":0.075},{"x":2,"x2":3,"y":-0.35,"z":0.027},{"x":3,"x2":3.4,"y":-0.35,"z":0.019},{"x":3.4,"x2":3.8,"y":-0.35,"z":0.013},{"x":3.8,"x2":4,"y":-0.35,"z":0.0067},{"x":4,"x2":4.4,"y":-0.35,"z":0.0017},{"x":4.6,"x2":4.8,"y":-0.35,"z":0.0024},
{"x":0.2,"x2":0.6,"y":-0.45,"z":0.027},{"x":0.6,"x2":3,"y":-0.45,"z":0.075},{"x":3,"x2":5,"y":-0.45,"z":0.21},{"x":5,"x2":5.4,"y":-0.45,"z":0.075},{"x":5.4,"x2":6,"y":-0.45,"z":0.027},{"x":6,"x2":6.2,"y":-0.45,"z":0.019},{"x":6.2,"x2":6.4,"y":-0.45,"z":0.0034},{"x":6.6,"x2":7,"y":-0.45,"z":0.0067},{"x":7,"x2":7.2,"y":-0.45,"z":0.013},
{"x":0.4,"x2":2.8,"y":-0.55,"z":0.027},{"x":2.8,"x2":3.4,"y":-0.55,"z":0.019},{"x":3.4,"x2":4,"y":-0.55,"z":0.013},{"x":4,"x2":5,"y":-0.55,"z":0.027},{"x":5,"x2":5.4,"y":-0.55,"z":0.11},{"x":5.4,"x2":5.6,"y":-0.55,"z":0.15},{"x":5.6,"x2":6,"y":-0.55,"z":0.21},{"x":6,"x2":6.4,"y":-0.55,"z":0.15},{"x":6.4,"x2":7,"y":-0.55,"z":0.21},{"x":7,"x2":7.4,"y":-0.55,"z":0.11},{"x":7.4,"x2":7.6,"y":-0.55,"z":0.075},{"x":7.6,"x2":8,"y":-0.55,"z":0.027},
{"x":0.2,"x2":0.4,"y":-0.65,"z":0.027},{"x":0.4,"x2":0.6,"y":-0.65,"z":0.013},{"x":0.6,"x2":0.8,"y":-0.65,"z":0.027},{"x":0.8,"x2":1.2,"y":-0.65,"z":0.0047},{"x":1.2,"x2":1.6,"y":-0.65,"z":0.0094},{"x":1.6,"x2":2,"y":-0.65,"z":0.0047},{"x":2,"x2":2.4,"y":-0.65,"z":0.0034},{"x":2.4,"x2":2.8,"y":-0.65,"z":0.0024},{"x":2.8,"x2":3,"y":-0.65,"z":0.0034},{"x":3,"x2":3.6,"y":-0.65,"z":0.0047},{"x":3.6,"x2":4,"y":-0.65,"z":0.0034},{"x":4,"x2":4.2,"y":-0.65,"z":0.0067},{"x":4.2,"x2":4.4,"y":-0.65,"z":0.0094},{"x":4.4,"x2":4.6,"y":-0.65,"z":0.0024},{"x":4.6,"x2":4.8,"y":-0.65,"z":0.0094},{"x":5.2,"x2":5.4,"y":-0.65,"z":0.0024},{"x":5.4,"x2":5.6,"y":-0.65,"z":0.0047},{"x":6.2,"x2":6.4,"y":-0.65,"z":0.0034},{"x":6.4,"x2":7,"y":-0.65,"z":0.027},{"x":7,"x2":7.2,"y":-0.65,"z":0.11},{"x":7.2,"x2":7.4,"y":-0.65,"z":0.027},{"x":7.4,"x2":7.6,"y":-0.65,"z":0.11},{"x":7.6,"x2":7.8,"y":-0.65,"z":0.15},{"x":7.8,"x2":8,"y":-0.65,"z":0.11},{"x":8,"x2":8.2,"y":-0.65,"z":0.3},
{"x":0.2,"x2":0.4,"y":-0.75,"z":0.027},{"x":0.6,"x2":0.8,"y":-0.75,"z":0.0067},{"x":0.8,"x2":1.2,"y":-0.75,"z":0.0034},{"x":1.2,"x2":1.4,"y":-0.75,"z":0.0047},{"x":1.4,"x2":1.8,"y":-0.75,"z":0.0024},{"x":1.8,"x2":2.2,"y":-0.75,"z":0.0034},{"x":2.2,"x2":2.4,"y":-0.75,"z":0.0017},{"x":2.4,"x2":2.8,"y":-0.75,"z":0.0047},{"x":2.8,"x2":3,"y":-0.75,"z":0.0034},{"x":3,"x2":3.2,"y":-0.75,"z":0.0067},{"x":3.2,"x2":3.8,"y":-0.75,"z":0.0017},{"x":4,"x2":4.2,"y":-0.75,"z":0.0047},{"x":4.4,"x2":4.6,"y":-0.75,"z":0.0094},{"x":4.8,"x2":5,"y":-0.75,"z":0.0017},{"x":5,"x2":5.2,"y":-0.75,"z":0.0012},{"x":5.2,"x2":5.6,"y":-0.75,"z":0.0024},{"x":5.6,"x2":6,"y":-0.75,"z":0.0034},{"x":6.4,"x2":6.6,"y":-0.75,"z":0.013},{"x":7.2,"x2":7.4,"y":-0.75,"z":0.0067},{"x":7.4,"x2":7.6,"y":-0.75,"z":0.0094},
{"x":0.4,"x2":0.6,"y":-0.85,"z":0.0034},{"x":0.6,"x2":1,"y":-0.85,"z":0.0094},{"x":1,"x2":1.2,"y":-0.85,"z":0.0034},{"x":1.2,"x2":1.8,"y":-0.85,"z":0.0047},{"x":1.8,"x2":2.6,"y":-0.85,"z":0.0034},{"x":2.6,"x2":3,"y":-0.85,"z":0.0047},{"x":3,"x2":3.2,"y":-0.85,"z":0.0034},{"x":3.2,"x2":4,"y":-0.85,"z":0.0047},{"x":4,"x2":4.4,"y":-0.85,"z":0.0067},{"x":4.4,"x2":4.6,"y":-0.85,"z":0.0017},{"x":4.6,"x2":4.8,"y":-0.85,"z":0.0094},{"x":5,"x2":5.2,"y":-0.85,"z":0.0012},{"x":5.2,"x2":5.4,"y":-0.85,"z":0.0067},{"x":5.8,"x2":6,"y":-0.85,"z":0.0034},{"x":7,"x2":7.2,"y":-0.85,"z":0.0067},
{"x":0.2,"x2":0.4,"y":-0.95,"z":0.027},{"x":0.4,"x2":1.4,"y":-0.95,"z":0.0047},{"x":1.4,"x2":1.8,"y":-0.95,"z":0.0034},{"x":1.8,"x2":2.2,"y":-0.95,"z":0.0047},{"x":2.2,"x2":2.6,"y":-0.95,"z":0.0067},{"x":2.6,"x2":4,"y":-0.95,"z":0.0094},{"x":4,"x2":4.2,"y":-0.95,"z":0.0047},{"x":4.4,"x2":4.8,"y":-0.95,"z":0.0034},{"x":5,"x2":5.2,"y":-0.95,"z":0.0067},{"x":5.2,"x2":5.4,"y":-0.95,"z":0.0024},{"x":5.6,"x2":5.8,"y":-0.95,"z":0.013},{"x":6.6,"x2":6.8,"y":-0.95,"z":0.0047},
{"x":0.6,"x2":1.2,"y":-1.05,"z":0.0094},{"x":1.2,"x2":1.4,"y":-1.05,"z":0.013},{"x":1.4,"x2":2,"y":-1.05,"z":0.0094},{"x":2,"x2":2.4,"y":-1.05,"z":0.013},{"x":2.4,"x2":4,"y":-1.05,"z":0.0094},{"x":4,"x2":4.8,"y":-1.05,"z":0.013},{"x":4.8,"x2":5.4,"y":-1.05,"z":0.0094},{"x":5.4,"x2":5.8,"y":-1.05,"z":0.0067},{"x":5.8,"x2":6,"y":-1.05,"z":0.0094},{"x":6,"x2":6.2,"y":-1.05,"z":0.013},{"x":6.4,"x2":6.6,"y":-1.05,"z":0.0047},
{"x":0.4,"x2":1.2,"y":-1.15,"z":0.013},{"x":1.2,"x2":1.4,"y":-1.15,"z":0.027},{"x":1.4,"x2":1.8,"y":-1.15,"z":0.019},{"x":1.8,"x2":2,"y":-1.15,"z":0.027},{"x":2,"x2":2.4,"y":-1.15,"z":0.013},{"x":2.4,"x2":5.4,"y":-1.15,"z":0.027},{"x":5.4,"x2":5.8,"y":-1.15,"z":0.019},{"x":5.8,"x2":6.8,"y":-1.15,"z":0.013},{"x":6.8,"x2":7,"y":-1.15,"z":0.019},{"x":7,"x2":7.4,"y":-1.15,"z":0.0067},{"x":7.8,"x2":8,"y":-1.15,"z":0.027},
{"x":0.2,"x2":0.4,"y":-1.25,"z":0.027},{"x":0.4,"x2":1.8,"y":-1.25,"z":0.013},{"x":1.8,"x2":2,"y":-1.25,"z":0.027},{"x":2,"x2":2.4,"y":-1.25,"z":0.013},{"x":2.4,"x2":5.8,"y":-1.25,"z":0.027},{"x":5.8,"x2":6,"y":-1.25,"z":0.0094},{"x":6,"x2":6.2,"y":-1.25,"z":0.013},{"x":6.2,"x2":6.4,"y":-1.25,"z":0.0067},{"x":6.4,"x2":6.8,"y":-1.25,"z":0.0047},{"x":6.8,"x2":7,"y":-1.25,"z":0.013},
{"x":0.4,"x2":0.6,"y":-1.35,"z":0.019},{"x":0.6,"x2":2.4,"y":-1.35,"z":0.013},{"x":2.4,"x2":4.6,"y":-1.35,"z":0.027},{"x":4.6,"x2":5,"y":-1.35,"z":0.019},{"x":5,"x2":5.4,"y":-1.35,"z":0.013},{"x":5.4,"x2":5.6,"y":-1.35,"z":0.027},{"x":5.6,"x2":5.8,"y":-1.35,"z":0.019},{"x":5.8,"x2":6,"y":-1.35,"z":0.0094},{"x":6,"x2":6.8,"y":-1.35,"z":0.013},{"x":7,"x2":7.4,"y":-1.35,"z":0.0067},
{"x":0.4,"x2":1,"y":-1.45,"z":0.0047},{"x":1,"x2":1.4,"y":-1.45,"z":0.0024},{"x":1.8,"x2":2,"y":-1.45,"z":0.0017},{"x":2,"x2":2.2,"y":-1.45,"z":0.0067},{"x":2.2,"x2":3.8,"y":-1.45,"z":0.0024},{"x":4,"x2":4.8,"y":-1.45,"z":0.0047},{"x":5,"x2":5.4,"y":-1.45,"z":0.0067},{"x":5.4,"x2":5.6,"y":-1.45,"z":0.0024},{"x":5.6,"x2":6,"y":-1.45,"z":0.0034},{"x":6,"x2":6.2,"y":-1.45,"z":0.0067},{"x":6.2,"x2":6.4,"y":-1.45,"z":0.013},{"x":6.4,"x2":6.6,"y":-1.45,"z":0.0094},{"x":6.6,"x2":6.8,"y":-1.45,"z":0.0047},{"x":7.2,"x2":7.4,"y":-1.45,"z":0.0067},{"x":7.6,"x2":7.8,"y":-1.45,"z":0.013},
{"x":0.4,"x2":0.6,"y":-1.55,"z":0.0067},{"x":0.8,"x2":1.2,"y":-1.55,"z":0.0017},{"x":1.8,"x2":2,"y":-1.55,"z":0.0024},{"x":2,"x2":2.2,"y":-1.55,"z":0.0094},{"x":2.2,"x2":2.6,"y":-1.55,"z":0.0017},{"x":2.6,"x2":3,"y":-1.55,"z":0.0024},{"x":3,"x2":3.2,"y":-1.55,"z":0.0017},{"x":3.4,"x2":3.8,"y":-1.55,"z":0.0024},{"x":4,"x2":4.4,"y":-1.55,"z":0.0034},{"x":4.4,"x2":4.8,"y":-1.55,"z":0.0067},{"x":5,"x2":5.4,"y":-1.55,"z":0.0067},{"x":5.4,"x2":5.6,"y":-1.55,"z":0.0024},{"x":5.6,"x2":6,"y":-1.55,"z":0.0067},{"x":6.2,"x2":6.6,"y":-1.55,"z":0.013},{"x":6.6,"x2":7,"y":-1.55,"z":0.0047},{"x":7,"x2":7.4,"y":-1.55,"z":0.0067},
{"x":0.4,"x2":0.6,"y":-1.65,"z":0.0034},{"x":0.6,"x2":1.4,"y":-1.65,"z":0.0017},{"x":1.6,"x2":1.8,"y":-1.65,"z":0.0024},{"x":2.2,"x2":2.4,"y":-1.65,"z":0.0067},{"x":2.4,"x2":2.6,"y":-1.65,"z":0.0017},{"x":2.8,"x2":3,"y":-1.65,"z":0.0034},{"x":3.2,"x2":3.4,"y":-1.65,"z":0.0034},{"x":3.8,"x2":4.2,"y":-1.65,"z":0.0034},{"x":4.2,"x2":4.8,"y":-1.65,"z":0.0067},{"x":4.8,"x2":5,"y":-1.65,"z":0.013},{"x":5.2,"x2":5.4,"y":-1.65,"z":0.0067},{"x":5.4,"x2":5.6,"y":-1.65,"z":0.0024},{"x":5.8,"x2":6,"y":-1.65,"z":0.0024},{"x":6,"x2":6.2,"y":-1.65,"z":0.0067},{"x":6.2,"x2":6.4,"y":-1.65,"z":0.013},{"x":6.4,"x2":6.6,"y":-1.65,"z":0.0067},{"x":6.6,"x2":6.8,"y":-1.65,"z":0.013},
{"x":0.2,"x2":0.4,"y":-1.75,"z":0.019},{"x":0.4,"x2":0.6,"y":-1.75,"z":0.027},{"x":0.6,"x2":1.2,"y":-1.75,"z":0.075},{"x":1.2,"x2":3.4,"y":-1.75,"z":0.027},{"x":3.4,"x2":3.8,"y":-1.75,"z":0.019},{"x":3.8,"x2":4.2,"y":-1.75,"z":0.0094},{"x":4.2,"x2":4.4,"y":-1.75,"z":0.0024},{"x":4.4,"x2":4.8,"y":-1.75,"z":0.0067},{"x":4.8,"x2":5,"y":-1.75,"z":0.0024},{"x":5,"x2":5.2,"y":-1.75,"z":0.0094},{"x":5.2,"x2":5.4,"y":-1.75,"z":0.0067},{"x":5.8,"x2":6,"y":-1.75,"z":0.0047},{"x":6,"x2":6.2,"y":-1.75,"z":0.0067},{"x":6.4,"x2":6.6,"y":-1.75,"z":0.013},{"x":6.8,"x2":7,"y":-1.75,"z":0.0067},{"x":7.2,"x2":7.8,"y":-1.75,"z":0.0094},
{"x":0.2,"x2":0.4,"y":-1.85,"z":0.21},{"x":0.4,"x2":1.2,"y":-1.85,"z":0.11},{"x":1.2,"x2":2.6,"y":-1.85,"z":0.027},{"x":2.6,"x2":3.2,"y":-1.85,"z":0.019},{"x":3.2,"x2":3.8,"y":-1.85,"z":0.013},{"x":3.8,"x2":4,"y":-1.85,"z":0.0094},{"x":4,"x2":4.6,"y":-1.85,"z":0.0067},{"x":4.6,"x2":4.8,"y":-1.85,"z":0.0017},{"x":4.8,"x2":5,"y":-1.85,"z":0.0047},{"x":5,"x2":5.2,"y":-1.85,"z":0.0034},{"x":5.4,"x2":5.6,"y":-1.85,"z":0.0024},{"x":5.6,"x2":5.8,"y":-1.85,"z":0.0094},{"x":5.8,"x2":6.2,"y":-1.85,"z":0.013},{"x":6.2,"x2":6.4,"y":-1.85,"z":0.0024},{"x":6.4,"x2":6.6,"y":-1.85,"z":0.027},{"x":6.6,"x2":6.8,"y":-1.85,"z":0.0094},{"x":6.8,"x2":7,"y":-1.85,"z":0.027},{"x":7,"x2":7.2,"y":-1.85,"z":0.019},{"x":7.4,"x2":7.6,"y":-1.85,"z":0.027},{"x":7.8,"x2":8,"y":-1.85,"z":0.027},
{"x":0.4,"x2":0.6,"y":-1.95,"z":0.013},{"x":0.6,"x2":1.4,"y":-1.95,"z":0.0094},{"x":1.4,"x2":2,"y":-1.95,"z":0.013},{"x":2,"x2":2.6,"y":-1.95,"z":0.027},{"x":2.6,"x2":2.8,"y":-1.95,"z":0.019},{"x":2.8,"x2":3.2,"y":-1.95,"z":0.027},{"x":3.2,"x2":4,"y":-1.95,"z":0.013},{"x":4,"x2":4.8,"y":-1.95,"z":0.0094},{"x":4.8,"x2":5.2,"y":-1.95,"z":0.0024},{"x":5.2,"x2":5.4,"y":-1.95,"z":0.0034},{"x":5.4,"x2":5.6,"y":-1.95,"z":0.0067},{"x":5.6,"x2":6,"y":-1.95,"z":0.0024},{"x":6,"x2":6.6,"y":-1.95,"z":0.013},{"x":6.6,"x2":7,"y":-1.95,"z":0.0067},{"x":7,"x2":7.4,"y":-1.95,"z":0.027},{"x":7.4,"x2":7.8,"y":-1.95,"z":0.013},
{"x":0.2,"x2":0.4,"y":-2.05,"z":0.075},{"x":0.4,"x2":6.4,"y":-2.05,"z":0.027},{"x":6.4,"x2":7,"y":-2.05,"z":0.013},{"x":7,"x2":7.6,"y":-2.05,"z":0.027},{"x":7.6,"x2":7.8,"y":-2.05,"z":0.0094},{"x":7.8,"x2":8,"y":-2.05,"z":0.027},{"x":8,"x2":8.2,"y":-2.05,"z":0.075},
{"x":0.2,"x2":0.4,"y":-2.15,"z":0.027},{"x":0.4,"x2":0.6,"y":-2.15,"z":0.0034},{"x":0.8,"x2":1.2,"y":-2.15,"z":0.0017},{"x":2.4,"x2":2.8,"y":-2.15,"z":0.0017},{"x":2.8,"x2":3.2,"y":-2.15,"z":0.0034},{"x":3.6,"x2":4,"y":-2.15,"z":0.0067},{"x":4,"x2":4.4,"y":-2.15,"z":0.013},{"x":4.4,"x2":6.4,"y":-2.15,"z":0.027},{"x":6.6,"x2":6.8,"y":-2.15,"z":0.027},{"x":6.8,"x2":7,"y":-2.15,"z":0.0094},{"x":7,"x2":7.2,"y":-2.15,"z":0.0067},{"x":7.6,"x2":7.8,"y":-2.15,"z":0.013},{"x":8,"x2":8.2,"y":-2.15,"z":0.075},
{"x":3,"x2":3.2,"y":-2.25,"z":0.0034},{"x":3.4,"x2":3.6,"y":-2.25,"z":0.0047},{"x":3.8,"x2":4,"y":-2.25,"z":0.0017},{"x":4,"x2":4.2,"y":-2.25,"z":0.0067},{"x":4.2,"x2":4.4,"y":-2.25,"z":0.013},{"x":4.4,"x2":5.2,"y":-2.25,"z":0.0094},{"x":5.2,"x2":5.4,"y":-2.25,"z":0.0067},{"x":5.4,"x2":5.6,"y":-2.25,"z":0.013},{"x":5.6,"x2":5.8,"y":-2.25,"z":0.027},{"x":5.8,"x2":6,"y":-2.25,"z":0.013},{"x":6,"x2":6.4,"y":-2.25,"z":0.027},{"x":6.4,"x2":6.8,"y":-2.25,"z":0.013},{"x":6.8,"x2":7,"y":-2.25,"z":0.019},{"x":7,"x2":7.2,"y":-2.25,"z":0.0067},{"x":7.2,"x2":7.4,"y":-2.25,"z":0.027},{"x":8.2,"x2":8.4,"y":-2.25,"z":0.6},
{"x":2,"x2":2.2,"y":-2.35,"z":0.0017},{"x":3.6,"x2":3.8,"y":-2.35,"z":0.0047},{"x":3.8,"x2":4,"y":-2.35,"z":0.0017},{"x":4.8,"x2":5.2,"y":-2.35,"z":0.0024},{"x":5.4,"x2":5.6,"y":-2.35,"z":0.013},{"x":5.8,"x2":6,"y":-2.35,"z":0.0047},{"x":6.2,"x2":6.4,"y":-2.35,"z":0.0034},{"x":6.4,"x2":6.8,"y":-2.35,"z":0.013},{"x":6.8,"x2":7,"y":-2.35,"z":0.019},{"x":7,"x2":7.2,"y":-2.35,"z":0.0067},
{"x":4,"x2":4.2,"y":-2.45,"z":0.0017},{"x":4.8,"x2":5.2,"y":-2.45,"z":0.0017},{"x":5.2,"x2":5.4,"y":-2.45,"z":0.0034},{"x":5.4,"x2":5.6,"y":-2.45,"z":0.0094},{"x":5.6,"x2":5.8,"y":-2.45,"z":0.0067},{"x":5.8,"x2":6,"y":-2.45,"z":0.013},{"x":6,"x2":6.2,"y":-2.45,"z":0.0067},
{"x":1.6,"x2":1.8,"y":-2.55,"z":0.0012},{"x":2.2,"x2":2.4,"y":-2.55,"z":0.0017},{"x":3,"x2":3.2,"y":-2.55,"z":0.0017},{"x":4.2,"x2":4.4,"y":-2.55,"z":0.0017},{"x":4.4,"x2":4.6,"y":-2.55,"z":0.0047},{"x":4.6,"x2":5.2,"y":-2.55,"z":0.0017},{"x":6.2,"x2":6.4,"y":-2.55,"z":0.0067},
{"x":3.6,"x2":4,"y":-2.65,"z":0.0017},{"x":4.6,"x2":4.8,"y":-2.65,"z":0.0017},{"x":4.8,"x2":5,"y":-2.65,"z":0.0034},{"x":5,"x2":5.2,"y":-2.65,"z":0.0047},{"x":5.2,"x2":5.4,"y":-2.65,"z":0.0067},{"x":5.4,"x2":5.8,"y":-2.65,"z":0.0024},{"x":5.8,"x2":6,"y":-2.65,"z":0.0034},{"x":6.2,"x2":6.6,"y":-2.65,"z":0.0034},
{"x":4.2,"x2":4.4,"y":-2.75,"z":0.0017},{"x":5.4,"x2":5.6,"y":-2.75,"z":0.0067},{"x":5.6,"x2":5.8,"y":-2.75,"z":0.0034},{"x":4.6,"x2":4.8,"y":-2.85,"z":0.0017},
{"x":3.8,"x2":4,"y":-2.95,"z":0.0012},{"x":4.8,"x2":5,"y":-2.95,"z":0.0017},{"x":5,"x2":5.2,"y":-2.95,"z":0.0012},{"x":5.4,"x2":5.6,"y":-3.05,"z":0.0024},{"x":5.2,"x2":5.4,"y":-3.15,"z":0.0024},{"x":7.4,"x2":7.6,"y":-3.15,"z":0.0094},
{"x":4,"x2":4.2,"y":-3.25,"z":0.0024},{"x":4,"x2":4.2,"y":-3.35,"z":0.0017},{"x":4.8,"x2":5,"y":-3.35,"z":0.0017},{"x":5,"x2":5.2,"y":-3.35,"z":0.0012},{"x":6,"x2":6.2,"y":-3.55,"z":0.0034}
],
"blocks":[
{"x":-10,"x2":-8.4,"y":-5,"y2":5,"z":0.0012},{"x":-0.2,"x2":0.2,"y":-5,"y2":5,"z":0.0012},{"x":8.4,"x2":10,"y":-5,"y2":5,"z":0.0012},
{"x":10.08,"x2":11.24,"y":-5,"y2":-4.5,"z":0.0012},{"x":10.08,"x2":11.24,"y":-4.5,"y2":-4,"z":0.0017},{"x":10.08,"x2":11.24,"y":-4,"y2":-3.5,"z":0.0024},{"x":10.08,"x2":11.24,"y":-3.5,"y2":-3,"z":0.0034},{"x":10.08,"x2":11.24,"y":-3,"y2":-2.5,"z":0.0047},{"x":10.08,"x2":11.24,"y":-2.5,"y2":-2,"z":0.0067},{"x":10.08,"x2":11.24,"y":-2,"y2":-1.5,"z":0.0094},{"x":10.08,"x2":11.24,"y":-1.5,"y2":-1,"z":0.013},{"x":10.08,"x2":11.24,"y":-1,"y2":-0.5,"z":0.019},{"x":10.08,"x2":11.24,"y":-0.5,"y2":0,"z":0.027},{"x":10.08,"x2":11.24,"y":0,"y2":0.5,"z":0.038},{"x":10.08,"x2":11.24,"y":0.5,"y2":1,"z":0.053},{"x":10.08,"x2":11.24,"y":1,"y2":1.5,"z":0.075},{"x":10.08,"x2":11.24,"y":1.5,"y2":2,"z":0.11},{"x":10.08,"x2":11.24,"y":2,"y2":2.5,"z":0.15},{"x":10.08,"x2":11.24,"y":2.5,"y2":3,"z":0.21},{"x":10.08,"x2":11.24,"y":3,"y2":3.5,"z":0.3},{"x":10.08,"x2":11.24,"y":3.5,"y2":4,"z":0.42},{"x":10.08,"x2":11.24,"y":4,"y2":4.5,"z":0.6},{"x":10.08,"x2":11.24,"y":4.5,"y2":5,"z":0.85}
]},
"layer":[
{"data":{"name":"blocks"},"mark":{"type":"rect","strokeWidth":0},"encoding":{
"x":{"field":"x","type":"quantitative","title":null,"scale":{"domain":[-10,10],"nice":false,"zero":false},"axis":{"values":[-10,-8,-6,-4,-2,0,2,4,6,8,10],"tickCount":11,"grid":false,"ticks":false,"domain":false,"labels":true,"labelFontSize":18,"labelFontWeight":"bold","labelColor":"black","labelPadding":4,"labelFlush":false,"labelOverlap":false,"labelExpr":"''+datum.value"}},
"x2":{"field":"x2"},
"y":{"field":"y","type":"quantitative","title":null,"scale":{"domain":[-5,5],"nice":false,"zero":false},"axis":{"values":[-5,-4,-3,-2,-1,0,1,2,3,4,5],"tickCount":11,"grid":false,"ticks":false,"domain":false,"labels":true,"labelFontSize":18,"labelFontWeight":"bold","labelColor":"black","labelPadding":4,"labelFlush":false,"labelOverlap":false,"labelExpr":"''+datum.value"}},
"y2":{"field":"y2"},
"color":{"field":"z","type":"quantitative","legend":null,"scale":{"type":"threshold","domain":[0.00141,0.002,0.00282,0.00398,0.00562,0.00794,0.0112,0.0158,0.0224,0.0316,0.0447,0.0631,0.0891,0.126,0.178,0.251,0.355,0.501,0.708],"range":["#6600ff","#3300ff","#0000ff","#0033ff","#0080ff","#00aaff","#00ffff","#1fffcc","#33ff66","#33ff00","#33ff00","#44ff00","#66ff00","#99ff00","#ccff00","#ffee00","#ffaa00","#ff6600","#ff0000","#cc0000"]}}}},
{"data":{"name":"cells"},"mark":{"type":"rect","height":3.77,"strokeWidth":0.4},"encoding":{
"x":{"field":"x","type":"quantitative","title":null},"x2":{"field":"x2"},
"y":{"field":"y","type":"quantitative","title":null},
"color":{"field":"z","type":"quantitative","legend":null,"scale":{"type":"threshold","domain":[0.00141,0.002,0.00282,0.00398,0.00562,0.00794,0.0112,0.0158,0.0224,0.0316,0.0447,0.0631,0.0891,0.126,0.178,0.251,0.355,0.501,0.708],"range":["#6600ff","#3300ff","#0000ff","#0033ff","#0080ff","#00aaff","#00ffff","#1fffcc","#33ff66","#33ff00","#33ff00","#44ff00","#66ff00","#99ff00","#ccff00","#ffee00","#ffaa00","#ff6600","#ff0000","#cc0000"]}},
"stroke":{"field":"z","type":"quantitative","legend":null,"scale":{"type":"threshold","domain":[0.00141,0.002,0.00282,0.00398,0.00562,0.00794,0.0112,0.0158,0.0224,0.0316,0.0447,0.0631,0.0891,0.126,0.178,0.251,0.355,0.501,0.708],"range":["#6600ff","#3300ff","#0000ff","#0033ff","#0080ff","#00aaff","#00ffff","#1fffcc","#33ff66","#33ff00","#33ff00","#44ff00","#66ff00","#99ff00","#ccff00","#ffee00","#ffaa00","#ff6600","#ff0000","#cc0000"]}}}},
{"data":{"values":[{"x":-8},{"x":-6},{"x":-4},{"x":-2},{"x":0},{"x":2},{"x":4},{"x":6},{"x":8}]},"mark":{"type":"rule","color":"black","strokeWidth":1,"strokeDash":[1,2]},"encoding":{"x":{"field":"x","type":"quantitative","title":null},"y":{"datum":-5,"type":"quantitative","title":null},"y2":{"datum":5}}},
{"data":{"values":[{"y":-4},{"y":-3},{"y":-2},{"y":-1},{"y":0},{"y":1},{"y":2},{"y":3},{"y":4}]},"mark":{"type":"rule","color":"black","strokeWidth":1,"strokeDash":[1,2]},"encoding":{"y":{"field":"y","type":"quantitative","title":null},"x":{"datum":-10,"type":"quantitative","title":null},"x2":{"datum":10}}},
{"data":{"values":[{"x":-9.5,"e":-4.86},{"x":-9,"e":-4.86},{"x":-8.5,"e":-4.86},{"x":-8,"e":-4.72},{"x":-7.5,"e":-4.86},{"x":-7,"e":-4.86},{"x":-6.5,"e":-4.86},{"x":-6,"e":-4.72},{"x":-5.5,"e":-4.86},{"x":-5,"e":-4.86},{"x":-4.5,"e":-4.86},{"x":-4,"e":-4.72},{"x":-3.5,"e":-4.86},{"x":-3,"e":-4.86},{"x":-2.5,"e":-4.86},{"x":-2,"e":-4.72},{"x":-1.5,"e":-4.86},{"x":-1,"e":-4.86},{"x":-0.5,"e":-4.86},{"x":0,"e":-4.72},{"x":0.5,"e":-4.86},{"x":1,"e":-4.86},{"x":1.5,"e":-4.86},{"x":2,"e":-4.72},{"x":2.5,"e":-4.86},{"x":3,"e":-4.86},{"x":3.5,"e":-4.86},{"x":4,"e":-4.72},{"x":4.5,"e":-4.86},{"x":5,"e":-4.86},{"x":5.5,"e":-4.86},{"x":6,"e":-4.72},{"x":6.5,"e":-4.86},{"x":7,"e":-4.86},{"x":7.5,"e":-4.86},{"x":8,"e":-4.72},{"x":8.5,"e":-4.86},{"x":9,"e":-4.86},{"x":9.5,"e":-4.86}]},"mark":{"type":"rule","color":"black","strokeWidth":1},"encoding":{"x":{"field":"x","type":"quantitative","title":null},"y":{"field":"e","type":"quantitative","title":null},"y2":{"datum":-5}}},
{"data":{"values":[{"y":-4.8,"e":-9.7},{"y":-4.6,"e":-9.7},{"y":-4.4,"e":-9.7},{"y":-4.2,"e":-9.7},{"y":-4,"e":-9.39},{"y":-3.8,"e":-9.7},{"y":-3.6,"e":-9.7},{"y":-3.4,"e":-9.7},{"y":-3.2,"e":-9.7},{"y":-3,"e":-9.39},{"y":-2.8,"e":-9.7},{"y":-2.6,"e":-9.7},{"y":-2.4,"e":-9.7},{"y":-2.2,"e":-9.7},{"y":-2,"e":-9.39},{"y":-1.8,"e":-9.7},{"y":-1.6,"e":-9.7},{"y":-1.4,"e":-9.7},{"y":-1.2,"e":-9.7},{"y":-1,"e":-9.39},{"y":-0.8,"e":-9.7},{"y":-0.6,"e":-9.7},{"y":-0.4,"e":-9.7},{"y":-0.2,"e":-9.7},{"y":0,"e":-9.39},{"y":0.2,"e":-9.7},{"y":0.4,"e":-9.7},{"y":0.6,"e":-9.7},{"y":0.8,"e":-9.7},{"y":1,"e":-9.39},{"y":1.2,"e":-9.7},{"y":1.4,"e":-9.7},{"y":1.6,"e":-9.7},{"y":1.8,"e":-9.7},{"y":2,"e":-9.39},{"y":2.2,"e":-9.7},{"y":2.4,"e":-9.7},{"y":2.6,"e":-9.7},{"y":2.8,"e":-9.7},{"y":3,"e":-9.39},{"y":3.2,"e":-9.7},{"y":3.4,"e":-9.7},{"y":3.6,"e":-9.7},{"y":3.8,"e":-9.7},{"y":4,"e":-9.39},{"y":4.2,"e":-9.7},{"y":4.4,"e":-9.7},{"y":4.6,"e":-9.7},{"y":4.8,"e":-9.7}]},"mark":{"type":"rule","color":"black","strokeWidth":1},"encoding":{"y":{"field":"y","type":"quantitative","title":null},"x":{"field":"e","type":"quantitative","title":null},"x2":{"datum":-10}}},
{"data":{"values":[{"x":-10,"x2":10,"y":-5,"y2":5},{"x":10.08,"x2":11.24,"y":-5,"y2":5}]},"mark":{"type":"rect","fillOpacity":0,"stroke":"black","strokeWidth":1},"encoding":{"x":{"field":"x","type":"quantitative","title":null},"x2":{"field":"x2"},"y":{"field":"y","type":"quantitative","title":null},"y2":{"field":"y2"}}},
{"data":{"values":[{"y":-4,"e":10.905},{"y":-3.41,"e":10.905},{"y":-2.99,"e":10.905},{"y":-2.67,"e":10.905},{"y":-2.4,"e":10.905},{"y":-2.18,"e":10.905},{"y":-1.99,"e":10.905},{"y":-1.82,"e":10.905},{"y":-1.67,"e":10.62},{"y":-0.67,"e":10.905},{"y":-0.08,"e":10.905},{"y":0.34,"e":10.905},{"y":0.66,"e":10.905},{"y":0.93,"e":10.905},{"y":1.15,"e":10.905},{"y":1.34,"e":10.905},{"y":1.51,"e":10.905},{"y":1.66,"e":10.62},{"y":2.66,"e":10.905},{"y":3.25,"e":10.905}]},"mark":{"type":"rule","color":"black","strokeWidth":1},"encoding":{"y":{"field":"y","type":"quantitative","title":null},"x":{"field":"e","type":"quantitative","title":null},"x2":{"datum":11.24}}},
{"data":{"values":[{"x":11.54,"y":1.56,"t":"10"},{"x":11.54,"y":-1.75,"t":"10"},{"x":11.54,"y":-5.1,"t":"10"}]},"mark":{"type":"text","align":"left","baseline":"middle","fontSize":18,"fontWeight":"bold","color":"black"},"encoding":{"x":{"field":"x","type":"quantitative","title":null},"y":{"field":"y","type":"quantitative","title":null},"text":{"field":"t"}}},
{"data":{"values":[{"x":12.28,"y":1.8,"t":"-1"},{"x":12.28,"y":-1.51,"t":"-2"},{"x":12.28,"y":-4.86,"t":"-3"}]},"mark":{"type":"text","align":"left","baseline":"middle","fontSize":11,"fontWeight":"bold","color":"black"},"encoding":{"x":{"field":"x","type":"quantitative","title":null},"y":{"field":"y","type":"quantitative","title":null},"text":{"field":"t"}}},
{"data":{"values":[{"x":-12.26,"x2":-0.21,"y":5.5,"y2":6.17},{"x":6.99,"x2":12.01,"y":3.19,"y2":6.185}]},"mark":{"type":"rect","fill":"white","stroke":"black","strokeWidth":1.2},"encoding":{"x":{"field":"x","type":"quantitative","title":null},"x2":{"field":"x2"},"y":{"field":"y","type":"quantitative","title":null},"y2":{"field":"y2"}}},
{"data":{"values":[{"x":6.99,"x2":12.01,"y":5.69}]},"mark":{"type":"rule","color":"black","strokeWidth":1},"encoding":{"x":{"field":"x","type":"quantitative","title":null},"x2":{"field":"x2"},"y":{"field":"y","type":"quantitative","title":null}}},
{"data":{"values":[{"x":-6.24,"y":5.85,"t":"Dmetric:qinvptB {dcaB!=dcaA}"}]},"mark":{"type":"text","align":"center","baseline":"middle","fontSize":21,"fontWeight":"bold","color":"black"},"encoding":{"x":{"field":"x","type":"quantitative","title":null},"y":{"field":"y","type":"quantitative","title":null},"text":{"field":"t"}}},
{"data":{"values":[{"x":9.47,"y":5.936,"t":"hist2"}]},"mark":{"type":"text","align":"center","baseline":"middle","fontSize":16,"fontWeight":"bold","color":"black"},"encoding":{"x":{"field":"x","type":"quantitative","title":null},"y":{"field":"y","type":"quantitative","title":null},"text":{"field":"t"}}},
{"data":{"values":[{"x":7.24,"y":5.443,"t":"Entries"},{"x":7.24,"y":4.947,"t":"Mean x"},{"x":7.24,"y":4.451,"t":"Mean y"},{"x":7.24,"y":3.921,"t":"RMS x"},{"x":7.24,"y":3.436,"t":"RMS y"}]},"mark":{"type":"text","align":"left","baseline":"middle","fontSize":16,"fontWeight":"bold","color":"black"},"encoding":{"x":{"field":"x","type":"quantitative","title":null},"y":{"field":"y","type":"quantitative","title":null},"text":{"field":"t"}}},
{"data":{"values":[{"x":11.72,"y":5.443,"t":"39550"},{"x":11.72,"y":4.947,"t":"-nan"},{"x":11.72,"y":4.451,"t":"-nan"},{"x":11.72,"y":3.921,"t":"nan"},{"x":11.72,"y":3.436,"t":"nan"}]},"mark":{"type":"text","align":"right","baseline":"middle","fontSize":16,"fontWeight":"bold","color":"black"},"encoding":{"x":{"field":"x","type":"quantitative","title":null},"y":{"field":"y","type":"quantitative","title":null},"text":{"field":"t"}}},
{"data":{"values":[{"x":-12.29,"y":-6.017,"t":"Tue Jun 10 11:05:37 2014"}]},"mark":{"type":"text","align":"left","baseline":"middle","fontSize":11,"fontWeight":"bold","color":"black"},"encoding":{"x":{"field":"x","type":"quantitative","title":null},"y":{"field":"y","type":"quantitative","title":null},"text":{"field":"t"}}}
]}
